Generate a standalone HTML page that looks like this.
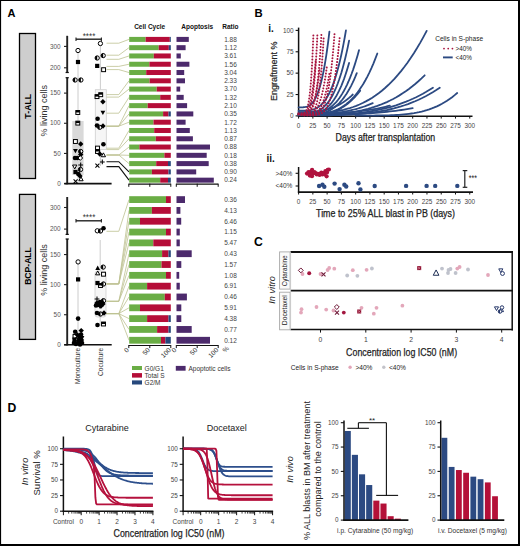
<!DOCTYPE html>
<html><head><meta charset="utf-8"><style>
html,body{margin:0;padding:0;background:#fff;}
svg{display:block;font-family:"Liberation Sans", sans-serif;}
</style></head><body>
<svg width="520" height="546" viewBox="0 0 520 546">
<rect x="0" y="0" width="520" height="546" fill="#fff"/>
<text x="7.5" y="17" font-size="11" text-anchor="start" font-weight="bold" fill="#000">A</text>
<rect x="19.50" y="33.50" width="16.00" height="145.00" fill="#cecece" stroke="#000" stroke-width="1.3"/>
<text x="31.3" y="106.2" font-size="8.8" text-anchor="middle" font-weight="bold" fill="#000" transform="rotate(-90 31.3 106.2)">T-ALL</text>
<rect x="19.50" y="194.40" width="16.00" height="145.00" fill="#cecece" stroke="#000" stroke-width="1.3"/>
<text x="31.3" y="266" font-size="8.6" text-anchor="middle" font-weight="bold" fill="#000" transform="rotate(-90 31.3 266)">BCP-ALL</text>
<text x="46.8" y="110.7" font-size="9" text-anchor="middle" font-weight="normal" fill="#333" transform="rotate(-90 46.8 110.7)">% living cells</text>
<text x="46.8" y="270" font-size="9" text-anchor="middle" font-weight="normal" fill="#333" transform="rotate(-90 46.8 270)">% living cells</text>
<line x1="67.20" y1="35.80" x2="67.20" y2="72.50" stroke="#222" stroke-width="1.9"/>
<line x1="67.20" y1="77.70" x2="67.20" y2="184.30" stroke="#222" stroke-width="1.9"/>
<line x1="65.60" y1="72.50" x2="68.80" y2="72.50" stroke="#111" stroke-width="1.2"/>
<line x1="65.60" y1="77.70" x2="68.80" y2="77.70" stroke="#111" stroke-width="1.2"/>
<line x1="64.00" y1="183.60" x2="67.20" y2="183.60" stroke="#222" stroke-width="1.1"/>
<text x="60.7" y="185.79999999999998" font-size="6.4" text-anchor="end" font-weight="normal" fill="#555">0</text>
<line x1="64.00" y1="153.44" x2="67.20" y2="153.44" stroke="#222" stroke-width="1.1"/>
<text x="60.7" y="155.635" font-size="6.4" text-anchor="end" font-weight="normal" fill="#555">50</text>
<line x1="64.00" y1="123.27" x2="67.20" y2="123.27" stroke="#222" stroke-width="1.1"/>
<text x="60.7" y="125.47" font-size="6.4" text-anchor="end" font-weight="normal" fill="#555">100</text>
<line x1="64.00" y1="93.11" x2="67.20" y2="93.11" stroke="#222" stroke-width="1.1"/>
<text x="60.7" y="95.305" font-size="6.4" text-anchor="end" font-weight="normal" fill="#555">150</text>
<line x1="64.00" y1="67.80" x2="67.20" y2="67.80" stroke="#222" stroke-width="1.1"/>
<text x="60.7" y="70.0" font-size="6.4" text-anchor="end" font-weight="normal" fill="#555">200</text>
<line x1="64.00" y1="46.40" x2="67.20" y2="46.40" stroke="#222" stroke-width="1.1"/>
<text x="60.7" y="48.6" font-size="6.4" text-anchor="end" font-weight="normal" fill="#555">300</text>
<line x1="64.40" y1="183.60" x2="111.60" y2="183.60" stroke="#111" stroke-width="1.6"/>
<line x1="67.20" y1="197.00" x2="67.20" y2="234.40" stroke="#222" stroke-width="1.9"/>
<line x1="67.20" y1="239.00" x2="67.20" y2="345.50" stroke="#222" stroke-width="1.9"/>
<line x1="65.60" y1="234.40" x2="68.80" y2="234.40" stroke="#111" stroke-width="1.2"/>
<line x1="65.60" y1="239.00" x2="68.80" y2="239.00" stroke="#111" stroke-width="1.2"/>
<line x1="64.00" y1="344.80" x2="67.20" y2="344.80" stroke="#222" stroke-width="1.1"/>
<text x="60.7" y="347.0" font-size="6.4" text-anchor="end" font-weight="normal" fill="#555">0</text>
<line x1="64.00" y1="314.73" x2="67.20" y2="314.73" stroke="#222" stroke-width="1.1"/>
<text x="60.7" y="316.925" font-size="6.4" text-anchor="end" font-weight="normal" fill="#555">50</text>
<line x1="64.00" y1="284.65" x2="67.20" y2="284.65" stroke="#222" stroke-width="1.1"/>
<text x="60.7" y="286.84999999999997" font-size="6.4" text-anchor="end" font-weight="normal" fill="#555">100</text>
<line x1="64.00" y1="254.57" x2="67.20" y2="254.57" stroke="#222" stroke-width="1.1"/>
<text x="60.7" y="256.775" font-size="6.4" text-anchor="end" font-weight="normal" fill="#555">150</text>
<line x1="64.00" y1="229.10" x2="67.20" y2="229.10" stroke="#222" stroke-width="1.1"/>
<text x="60.7" y="231.29999999999998" font-size="6.4" text-anchor="end" font-weight="normal" fill="#555">200</text>
<line x1="64.00" y1="207.50" x2="67.20" y2="207.50" stroke="#222" stroke-width="1.1"/>
<text x="60.7" y="209.7" font-size="6.4" text-anchor="end" font-weight="normal" fill="#555">300</text>
<line x1="64.20" y1="344.80" x2="111.70" y2="344.80" stroke="#111" stroke-width="1.6"/>
<line x1="76.00" y1="39.20" x2="101.40" y2="39.20" stroke="#222" stroke-width="1.4"/>
<line x1="76.00" y1="37.40" x2="76.00" y2="41.00" stroke="#222" stroke-width="1.1"/>
<line x1="101.40" y1="37.40" x2="101.40" y2="41.00" stroke="#222" stroke-width="1.1"/>
<text x="89" y="38.6" font-size="8.4" text-anchor="middle" font-weight="normal" fill="#333" textLength="12.6" lengthAdjust="spacingAndGlyphs">****</text>
<line x1="76.00" y1="220.80" x2="101.40" y2="220.80" stroke="#222" stroke-width="1.4"/>
<line x1="76.00" y1="219.00" x2="76.00" y2="222.60" stroke="#222" stroke-width="1.1"/>
<line x1="101.40" y1="219.00" x2="101.40" y2="222.60" stroke="#222" stroke-width="1.1"/>
<text x="89" y="220.20000000000002" font-size="8.4" text-anchor="middle" font-weight="normal" fill="#333" textLength="12.6" lengthAdjust="spacingAndGlyphs">****</text>
<line x1="78.00" y1="50.50" x2="78.00" y2="121.00" stroke="#c6c6c6" stroke-width="0.9"/>
<rect x="72.30" y="121.00" width="11.30" height="54.00" fill="#d9d9d9" stroke="none" stroke-width="0"/>
<line x1="78.00" y1="175.00" x2="78.00" y2="181.60" stroke="#c6c6c6" stroke-width="0.9"/>
<line x1="100.40" y1="43.50" x2="100.40" y2="89.70" stroke="#c6c6c6" stroke-width="0.9"/>
<rect x="95.30" y="89.70" width="11.00" height="59.80" fill="#f6f6f6" stroke="#cfcfcf" stroke-width="0.8"/>
<line x1="100.40" y1="149.50" x2="100.40" y2="166.00" stroke="#c6c6c6" stroke-width="0.9"/>
<line x1="78.00" y1="262.00" x2="78.00" y2="338.00" stroke="#c6c6c6" stroke-width="0.9"/>
<rect x="72.80" y="333.00" width="10.60" height="10.00" fill="#d9d9d9" stroke="none" stroke-width="0"/>
<line x1="100.20" y1="240.00" x2="100.20" y2="271.00" stroke="#c6c6c6" stroke-width="0.9"/>
<rect x="95.00" y="271.00" width="11.00" height="46.00" fill="#f6f6f6" stroke="#cfcfcf" stroke-width="0.8" rx="2.5"/>
<line x1="100.20" y1="317.00" x2="100.20" y2="326.00" stroke="#c6c6c6" stroke-width="0.9"/>
<path d="M106.50,43.20 L118.80,43.20 L129.00,39.40" fill="none" stroke="#bec292" stroke-width="0.8"/>
<path d="M106.50,55.20 L118.80,55.20 L129.00,47.68" fill="none" stroke="#bec292" stroke-width="0.8"/>
<path d="M106.50,59.30 L118.80,59.30 L129.00,55.96" fill="none" stroke="#bec292" stroke-width="0.8"/>
<path d="M106.50,66.40 L118.80,66.40 L129.00,64.24" fill="none" stroke="#bec292" stroke-width="0.8"/>
<path d="M106.50,69.60 L118.80,69.60 L129.00,72.52" fill="none" stroke="#bec292" stroke-width="0.8"/>
<path d="M106.50,94.60 L118.80,94.60 L129.00,80.80" fill="none" stroke="#bec292" stroke-width="0.8"/>
<path d="M106.50,97.10 L118.80,97.10 L129.00,89.08" fill="none" stroke="#bec292" stroke-width="0.8"/>
<path d="M106.50,113.20 L118.80,113.20 L129.00,97.36" fill="none" stroke="#bec292" stroke-width="0.8"/>
<path d="M106.50,126.20 L118.80,126.20 L129.00,105.64" fill="none" stroke="#bec292" stroke-width="0.8"/>
<path d="M106.50,126.20 L118.80,126.20 L129.00,113.92" fill="none" stroke="#bec292" stroke-width="0.8"/>
<path d="M106.50,126.20 L118.80,126.20 L129.00,122.20" fill="none" stroke="#bec292" stroke-width="0.8"/>
<path d="M106.50,148.20 L118.80,148.20 L129.00,130.48" fill="none" stroke="#bec292" stroke-width="0.8"/>
<path d="M106.50,149.60 L118.80,149.60 L129.00,138.76" fill="none" stroke="#bec292" stroke-width="0.8"/>
<path d="M106.50,155.00 L118.80,155.00 L129.00,147.04" fill="none" stroke="#bec292" stroke-width="0.8"/>
<path d="M106.50,155.00 L118.80,155.00 L129.00,155.32" fill="none" stroke="#bec292" stroke-width="0.8"/>
<path d="M106.50,155.00 L118.80,155.00 L129.00,163.60" fill="none" stroke="#bec292" stroke-width="0.8"/>
<path d="M106.50,161.70 L118.80,161.70 L129.00,171.88" fill="none" stroke="#111" stroke-width="1.1"/>
<path d="M106.50,166.60 L118.80,166.60 L129.00,180.16" fill="none" stroke="#111" stroke-width="1.1"/>
<path d="M106.50,231.30 L118.80,231.30 L129.00,199.60" fill="none" stroke="#bec292" stroke-width="0.8"/>
<path d="M106.50,283.90 L118.80,283.90 L129.00,210.42" fill="none" stroke="#bec292" stroke-width="0.8"/>
<path d="M106.50,283.90 L118.80,283.90 L129.00,221.24" fill="none" stroke="#bec292" stroke-width="0.8"/>
<path d="M106.50,283.90 L118.80,283.90 L129.00,232.06" fill="none" stroke="#bec292" stroke-width="0.8"/>
<path d="M106.50,283.90 L118.80,283.90 L129.00,242.88" fill="none" stroke="#bec292" stroke-width="0.8"/>
<path d="M106.50,301.30 L118.80,301.30 L129.00,253.70" fill="none" stroke="#bec292" stroke-width="0.8"/>
<path d="M106.50,301.30 L118.80,301.30 L129.00,264.52" fill="none" stroke="#bec292" stroke-width="0.8"/>
<path d="M106.50,301.30 L118.80,301.30 L129.00,275.34" fill="none" stroke="#bec292" stroke-width="0.8"/>
<path d="M106.50,313.60 L118.80,313.60 L129.00,286.16" fill="none" stroke="#bec292" stroke-width="0.8"/>
<path d="M106.50,313.60 L118.80,313.60 L129.00,296.98" fill="none" stroke="#bec292" stroke-width="0.8"/>
<path d="M106.50,313.60 L118.80,313.60 L129.00,307.80" fill="none" stroke="#bec292" stroke-width="0.8"/>
<path d="M106.50,313.60 L118.80,313.60 L129.00,318.62" fill="none" stroke="#bec292" stroke-width="0.8"/>
<path d="M106.50,313.60 L118.80,313.60 L129.00,329.44" fill="none" stroke="#bec292" stroke-width="0.8"/>
<path d="M106.50,313.60 L118.80,313.60 L129.00,340.26" fill="none" stroke="#bec292" stroke-width="0.8"/>
<circle cx="78" cy="50.5" r="2.15" fill="#fff" stroke="#000" stroke-width="1.0"/>
<rect x="75.90" y="59.90" width="4.20" height="4.20" fill="#000" stroke="none" stroke-width="0"/>
<circle cx="75.1" cy="80" r="2.15" fill="#fff" stroke="#000" stroke-width="1.0"/>
<path d="M75.10,77.85 A2.15,2.15 0 0 0 75.10,82.15 Z" fill="#000"/>
<circle cx="80.9" cy="80" r="2.15" fill="#fff" stroke="#000" stroke-width="1.0"/>
<path d="M80.90,77.85 A2.15,2.15 0 0 0 80.90,82.15 Z" fill="#000"/>
<rect x="75.85" y="110.55" width="3.90" height="3.90" fill="#fff" stroke="#000" stroke-width="1.0"/>
<rect x="75.85" y="110.55" width="3.90" height="1.95" fill="#000" stroke="none" stroke-width="0"/>
<rect x="75.85" y="121.15" width="3.90" height="3.90" fill="#fff" stroke="#000" stroke-width="1.0"/>
<rect x="75.85" y="121.15" width="3.90" height="1.95" fill="#000" stroke="none" stroke-width="0"/>
<rect x="73.45" y="139.55" width="3.90" height="3.90" fill="#fff" stroke="#000" stroke-width="1.0"/>
<path d="M80.7,141.30 L83.40,144 L80.7,146.70 L78.00,144 Z" fill="#000"/>
<path d="M73.00,148.90 L77.80,148.90 L75.4,153.30 Z" fill="#000"/>
<circle cx="80.7" cy="151.5" r="2.15" fill="#fff" stroke="#000" stroke-width="1.0"/>
<path d="M80.70,149.35 A2.15,2.15 0 0 0 80.70,153.65 Z" fill="#000"/>
<path d="M80.7,151.80 L83.40,154.5 L80.7,157.20 L78.00,154.5 Z" fill="#000"/>
<circle cx="75" cy="158" r="2.30" fill="#000"/>
<circle cx="77.3" cy="158" r="2.30" fill="#000"/>
<path d="M80.3,155.65 L82.65,158 L80.3,160.35 L77.95,158 Z" fill="#fff" stroke="#000" stroke-width="1.0"/>
<path d="M78.30,165 L83.10,165 M80.7,162.60 L80.7,167.40" stroke="#000" stroke-width="1.05"/>
<path d="M72.55,165.05 L76.85,165.05 L74.7,168.95 Z" fill="#fff" stroke="#000" stroke-width="1.0" stroke-linejoin="round"/>
<circle cx="80.5" cy="169.5" r="2.15" fill="#fff" stroke="#000" stroke-width="1.0"/>
<path d="M80.50,167.35 A2.15,2.15 0 0 0 80.50,171.65 Z" fill="#000"/>
<rect x="73.40" y="169.90" width="4.20" height="4.20" fill="#000" stroke="none" stroke-width="0"/>
<circle cx="78.3" cy="174" r="2.30" fill="#000"/>
<path d="M80,173.30 L82.70,176 L80,178.70 L77.30,176 Z" fill="#000"/>
<path d="M78.85,180.75 L83.15,180.75 L81,176.85 Z" fill="#fff" stroke="#000" stroke-width="1.0" stroke-linejoin="round"/>
<path d="M73.60,179.40 L77.60,183.40 M73.60,183.40 L77.60,179.40" stroke="#000" stroke-width="1.05"/>
<circle cx="100.4" cy="43.5" r="2.15" fill="#fff" stroke="#000" stroke-width="1.0"/>
<circle cx="97.2" cy="58" r="2.15" fill="#fff" stroke="#000" stroke-width="1.0"/>
<path d="M97.20,55.85 A2.15,2.15 0 0 0 97.20,60.15 Z" fill="#000"/>
<circle cx="103.2" cy="55.6" r="2.15" fill="#fff" stroke="#000" stroke-width="1.0"/>
<path d="M103.20,53.45 A2.15,2.15 0 0 0 103.20,57.75 Z" fill="#000"/>
<rect x="95.10" y="63.80" width="4.20" height="4.20" fill="#000" stroke="none" stroke-width="0"/>
<rect x="101.65" y="67.75" width="3.90" height="3.90" fill="#fff" stroke="#000" stroke-width="1.0"/>
<rect x="95.05" y="94.65" width="3.90" height="3.90" fill="#fff" stroke="#000" stroke-width="1.0"/>
<rect x="95.05" y="94.65" width="3.90" height="1.95" fill="#000" stroke="none" stroke-width="0"/>
<rect x="98.75" y="92.75" width="3.90" height="3.90" fill="#fff" stroke="#000" stroke-width="1.0"/>
<rect x="98.75" y="92.75" width="3.90" height="1.95" fill="#000" stroke="none" stroke-width="0"/>
<path d="M102.9,99.00 L105.60,101.7 L102.9,104.40 L100.20,101.7 Z" fill="#000"/>
<path d="M100.50,110.70 L105.30,110.70 L102.9,115.10 Z" fill="#000"/>
<circle cx="97.6" cy="118.7" r="2.30" fill="#000"/>
<circle cx="97" cy="125.5" r="2.30" fill="#000"/>
<circle cx="99.7" cy="127.3" r="2.15" fill="#fff" stroke="#000" stroke-width="1.0"/>
<path d="M99.70,125.15 A2.15,2.15 0 0 0 99.70,129.45 Z" fill="#000"/>
<path d="M103,123.30 L105.70,126 L103,128.70 L100.30,126 Z" fill="#000"/>
<circle cx="103.4" cy="144.3" r="2.30" fill="#000"/>
<rect x="95.55" y="146.15" width="3.90" height="3.90" fill="#fff" stroke="#000" stroke-width="1.0"/>
<rect x="95.55" y="149.55" width="3.90" height="3.90" fill="#fff" stroke="#000" stroke-width="1.0"/>
<rect x="95.55" y="149.55" width="3.90" height="1.95" fill="#000" stroke="none" stroke-width="0"/>
<path d="M99.8,151.30 L102.50,154 L99.8,156.70 L97.10,154 Z" fill="#000"/>
<path d="M101.25,156.75 L105.55,156.75 L103.4,152.85 Z" fill="#fff" stroke="#000" stroke-width="1.0" stroke-linejoin="round"/>
<path d="M99.90,161.9 L104.70,161.9 M102.3,159.50 L102.3,164.30" stroke="#000" stroke-width="1.05"/>
<path d="M95.40,163.70 L99.40,167.70 M95.40,167.70 L99.40,163.70" stroke="#000" stroke-width="1.05"/>
<circle cx="78.1" cy="261.9" r="2.15" fill="#fff" stroke="#000" stroke-width="1.0"/>
<rect x="76.00" y="277.30" width="4.20" height="4.20" fill="#000" stroke="none" stroke-width="0"/>
<circle cx="78.1" cy="318.6" r="2.30" fill="#000"/>
<circle cx="75.2" cy="331.8" r="2.30" fill="#000"/>
<path d="M81.2,327.90 L83.90,330.6 L81.2,333.30 L78.50,330.6 Z" fill="#000"/>
<rect x="73.05" y="334.55" width="3.90" height="3.90" fill="#fff" stroke="#000" stroke-width="1.0"/>
<circle cx="80" cy="337" r="2.30" fill="#000"/>
<circle cx="76" cy="340" r="2.15" fill="#fff" stroke="#000" stroke-width="1.0"/>
<path d="M76.00,337.85 A2.15,2.15 0 0 0 76.00,342.15 Z" fill="#000"/>
<path d="M81.5,337.30 L84.20,340 L81.5,342.70 L78.80,340 Z" fill="#000"/>
<circle cx="74" cy="343" r="2.30" fill="#000"/>
<circle cx="78" cy="343" r="2.30" fill="#000"/>
<circle cx="82" cy="343" r="2.30" fill="#000"/>
<path d="M76.00,337.00 L80.00,341.00 M76.00,341.00 L80.00,337.00" stroke="#000" stroke-width="1.05"/>
<path d="M77.5,332.30 L80.20,335 L77.5,337.70 L74.80,335 Z" fill="#000"/>
<circle cx="81" cy="334.5" r="2.30" fill="#000"/>
<rect x="72.40" y="337.40" width="4.20" height="4.20" fill="#000" stroke="none" stroke-width="0"/>
<circle cx="79" cy="341" r="2.30" fill="#000"/>
<path d="M79.60,336.00 L84.40,336.00 L82,340.40 Z" fill="#000"/>
<circle cx="76" cy="344" r="2.30" fill="#000"/>
<circle cx="80" cy="344.5" r="2.30" fill="#000"/>
<circle cx="97.3" cy="230.8" r="2.15" fill="#fff" stroke="#000" stroke-width="1.0"/>
<circle cx="100.5" cy="231" r="2.15" fill="#fff" stroke="#000" stroke-width="1.0"/>
<path d="M100.50,228.85 A2.15,2.15 0 0 0 100.50,233.15 Z" fill="#000"/>
<circle cx="103.5" cy="228.2" r="2.30" fill="#000"/>
<path d="M95.30,269.90 L100.10,269.90 L97.7,265.50 Z" fill="#000"/>
<circle cx="103.2" cy="267.1" r="2.15" fill="#fff" stroke="#000" stroke-width="1.0"/>
<path d="M103.20,264.95 A2.15,2.15 0 0 0 103.20,269.25 Z" fill="#000"/>
<path d="M95.55,274.85 L99.85,274.85 L97.7,270.95 Z" fill="#fff" stroke="#000" stroke-width="1.0" stroke-linejoin="round"/>
<rect x="101.55" y="272.25" width="3.90" height="3.90" fill="#fff" stroke="#000" stroke-width="1.0"/>
<rect x="95.40" y="280.90" width="4.20" height="4.20" fill="#000" stroke="none" stroke-width="0"/>
<rect x="98.55" y="283.55" width="3.90" height="3.90" fill="#fff" stroke="#000" stroke-width="1.0"/>
<rect x="98.55" y="283.55" width="3.90" height="1.95" fill="#000" stroke="none" stroke-width="0"/>
<circle cx="103.5" cy="284" r="2.15" fill="#fff" stroke="#000" stroke-width="1.0"/>
<path d="M103.50,281.85 A2.15,2.15 0 0 0 103.50,286.15 Z" fill="#000"/>
<path d="M94.60,299 L99.40,299 M97,296.60 L97,301.40" stroke="#000" stroke-width="1.05"/>
<circle cx="103.5" cy="300.7" r="2.15" fill="#fff" stroke="#000" stroke-width="1.0"/>
<path d="M103.50,298.55 A2.15,2.15 0 0 0 103.50,302.85 Z" fill="#000"/>
<path d="M97,300.30 L99.70,303 L97,305.70 L94.30,303 Z" fill="#000"/>
<circle cx="100" cy="302" r="2.30" fill="#000"/>
<path d="M103,301.30 L105.70,304 L103,306.70 L100.30,304 Z" fill="#000"/>
<path d="M97.60,304.50 L102.40,304.50 L100,308.90 Z" fill="#000"/>
<circle cx="98" cy="305" r="2.30" fill="#000"/>
<path d="M99,301.30 L101.70,304 L99,306.70 L96.30,304 Z" fill="#000"/>
<circle cx="102" cy="303" r="2.30" fill="#000"/>
<path d="M101,303.30 L103.70,306 L101,308.70 L98.30,306 Z" fill="#000"/>
<circle cx="96" cy="305.5" r="2.30" fill="#000"/>
<circle cx="97" cy="313" r="2.30" fill="#000"/>
<circle cx="100.5" cy="314" r="2.15" fill="#fff" stroke="#000" stroke-width="1.0"/>
<path d="M100.50,311.85 A2.15,2.15 0 0 0 100.50,316.15 Z" fill="#000"/>
<path d="M104,310.30 L106.70,313 L104,315.70 L101.30,313 Z" fill="#000"/>
<circle cx="97.5" cy="325" r="2.30" fill="#000"/>
<rect x="101.55" y="322.05" width="3.90" height="3.90" fill="#fff" stroke="#000" stroke-width="1.0"/>
<rect x="101.55" y="322.05" width="3.90" height="1.95" fill="#000" stroke="none" stroke-width="0"/>
<rect x="129.20" y="36.90" width="16.40" height="5.00" fill="#6aad45" stroke="none" stroke-width="0"/>
<rect x="145.60" y="36.90" width="24.20" height="5.00" fill="#b50d38" stroke="none" stroke-width="0"/>
<rect x="169.80" y="36.90" width="1.00" height="5.00" fill="#26487c" stroke="none" stroke-width="0"/>
<rect x="176.50" y="36.90" width="12.30" height="5.00" fill="#4c2a6c" stroke="none" stroke-width="0"/>
<text x="236.8" y="41.699999999999996" font-size="6.5" text-anchor="end" font-weight="normal" fill="#444">1.88</text>
<rect x="129.20" y="45.18" width="29.50" height="5.00" fill="#6aad45" stroke="none" stroke-width="0"/>
<rect x="158.70" y="45.18" width="10.10" height="5.00" fill="#b50d38" stroke="none" stroke-width="0"/>
<rect x="168.80" y="45.18" width="2.00" height="5.00" fill="#26487c" stroke="none" stroke-width="0"/>
<rect x="176.50" y="45.18" width="9.10" height="5.00" fill="#4c2a6c" stroke="none" stroke-width="0"/>
<text x="236.8" y="49.98" font-size="6.5" text-anchor="end" font-weight="normal" fill="#444">1.12</text>
<rect x="129.20" y="53.46" width="24.60" height="5.00" fill="#6aad45" stroke="none" stroke-width="0"/>
<rect x="153.80" y="53.46" width="17.00" height="5.00" fill="#b50d38" stroke="none" stroke-width="0"/>
<rect x="176.50" y="53.46" width="4.30" height="5.00" fill="#4c2a6c" stroke="none" stroke-width="0"/>
<text x="236.8" y="58.25999999999999" font-size="6.5" text-anchor="end" font-weight="normal" fill="#444">3.61</text>
<rect x="129.20" y="61.74" width="20.20" height="5.00" fill="#6aad45" stroke="none" stroke-width="0"/>
<rect x="149.40" y="61.74" width="21.40" height="5.00" fill="#b50d38" stroke="none" stroke-width="0"/>
<rect x="176.50" y="61.74" width="12.90" height="5.00" fill="#4c2a6c" stroke="none" stroke-width="0"/>
<text x="236.8" y="66.53999999999999" font-size="6.5" text-anchor="end" font-weight="normal" fill="#444">1.56</text>
<rect x="129.20" y="70.02" width="17.00" height="5.00" fill="#6aad45" stroke="none" stroke-width="0"/>
<rect x="146.20" y="70.02" width="24.60" height="5.00" fill="#b50d38" stroke="none" stroke-width="0"/>
<rect x="176.50" y="70.02" width="7.70" height="5.00" fill="#4c2a6c" stroke="none" stroke-width="0"/>
<text x="236.8" y="74.82" font-size="6.5" text-anchor="end" font-weight="normal" fill="#444">3.04</text>
<rect x="129.20" y="78.30" width="20.40" height="5.00" fill="#6aad45" stroke="none" stroke-width="0"/>
<rect x="149.60" y="78.30" width="21.20" height="5.00" fill="#b50d38" stroke="none" stroke-width="0"/>
<rect x="176.50" y="78.30" width="8.50" height="5.00" fill="#4c2a6c" stroke="none" stroke-width="0"/>
<text x="236.8" y="83.1" font-size="6.5" text-anchor="end" font-weight="normal" fill="#444">2.33</text>
<rect x="129.20" y="86.58" width="27.50" height="5.00" fill="#6aad45" stroke="none" stroke-width="0"/>
<rect x="156.70" y="86.58" width="14.10" height="5.00" fill="#b50d38" stroke="none" stroke-width="0"/>
<rect x="176.50" y="86.58" width="3.70" height="5.00" fill="#4c2a6c" stroke="none" stroke-width="0"/>
<text x="236.8" y="91.37999999999998" font-size="6.5" text-anchor="end" font-weight="normal" fill="#444">3.70</text>
<rect x="129.20" y="94.86" width="31.00" height="5.00" fill="#6aad45" stroke="none" stroke-width="0"/>
<rect x="160.20" y="94.86" width="10.60" height="5.00" fill="#b50d38" stroke="none" stroke-width="0"/>
<rect x="176.50" y="94.86" width="7.20" height="5.00" fill="#4c2a6c" stroke="none" stroke-width="0"/>
<text x="236.8" y="99.65999999999998" font-size="6.5" text-anchor="end" font-weight="normal" fill="#444">1.32</text>
<rect x="129.20" y="103.14" width="18.50" height="5.00" fill="#6aad45" stroke="none" stroke-width="0"/>
<rect x="147.70" y="103.14" width="23.10" height="5.00" fill="#b50d38" stroke="none" stroke-width="0"/>
<rect x="176.50" y="103.14" width="10.60" height="5.00" fill="#4c2a6c" stroke="none" stroke-width="0"/>
<text x="236.8" y="107.93999999999998" font-size="6.5" text-anchor="end" font-weight="normal" fill="#444">2.10</text>
<rect x="129.20" y="111.42" width="33.90" height="5.00" fill="#6aad45" stroke="none" stroke-width="0"/>
<rect x="163.10" y="111.42" width="5.40" height="5.00" fill="#b50d38" stroke="none" stroke-width="0"/>
<rect x="168.50" y="111.42" width="2.30" height="5.00" fill="#26487c" stroke="none" stroke-width="0"/>
<rect x="176.50" y="111.42" width="16.80" height="5.00" fill="#4c2a6c" stroke="none" stroke-width="0"/>
<text x="236.8" y="116.21999999999998" font-size="6.5" text-anchor="end" font-weight="normal" fill="#444">0.35</text>
<rect x="129.20" y="119.70" width="24.30" height="5.00" fill="#6aad45" stroke="none" stroke-width="0"/>
<rect x="153.50" y="119.70" width="17.30" height="5.00" fill="#b50d38" stroke="none" stroke-width="0"/>
<rect x="176.50" y="119.70" width="9.10" height="5.00" fill="#4c2a6c" stroke="none" stroke-width="0"/>
<text x="236.8" y="124.49999999999999" font-size="6.5" text-anchor="end" font-weight="normal" fill="#444">1.72</text>
<rect x="129.20" y="127.98" width="25.00" height="5.00" fill="#6aad45" stroke="none" stroke-width="0"/>
<rect x="154.20" y="127.98" width="16.60" height="5.00" fill="#b50d38" stroke="none" stroke-width="0"/>
<rect x="176.50" y="127.98" width="13.30" height="5.00" fill="#4c2a6c" stroke="none" stroke-width="0"/>
<text x="236.8" y="132.78" font-size="6.5" text-anchor="end" font-weight="normal" fill="#444">1.13</text>
<rect x="129.20" y="136.26" width="26.60" height="5.00" fill="#6aad45" stroke="none" stroke-width="0"/>
<rect x="155.80" y="136.26" width="15.00" height="5.00" fill="#b50d38" stroke="none" stroke-width="0"/>
<rect x="176.50" y="136.26" width="16.40" height="5.00" fill="#4c2a6c" stroke="none" stroke-width="0"/>
<text x="236.8" y="141.06" font-size="6.5" text-anchor="end" font-weight="normal" fill="#444">0.87</text>
<rect x="129.20" y="144.54" width="10.20" height="5.00" fill="#6aad45" stroke="none" stroke-width="0"/>
<rect x="139.40" y="144.54" width="31.40" height="5.00" fill="#b50d38" stroke="none" stroke-width="0"/>
<rect x="176.50" y="144.54" width="33.50" height="5.00" fill="#4c2a6c" stroke="none" stroke-width="0"/>
<text x="236.8" y="149.34" font-size="6.5" text-anchor="end" font-weight="normal" fill="#444">0.88</text>
<rect x="129.20" y="152.82" width="35.20" height="5.00" fill="#6aad45" stroke="none" stroke-width="0"/>
<rect x="164.40" y="152.82" width="6.40" height="5.00" fill="#b50d38" stroke="none" stroke-width="0"/>
<rect x="176.50" y="152.82" width="30.20" height="5.00" fill="#4c2a6c" stroke="none" stroke-width="0"/>
<text x="236.8" y="157.62" font-size="6.5" text-anchor="end" font-weight="normal" fill="#444">0.18</text>
<rect x="129.20" y="161.10" width="27.00" height="5.00" fill="#6aad45" stroke="none" stroke-width="0"/>
<rect x="156.20" y="161.10" width="11.80" height="5.00" fill="#b50d38" stroke="none" stroke-width="0"/>
<rect x="168.00" y="161.10" width="2.80" height="5.00" fill="#26487c" stroke="none" stroke-width="0"/>
<rect x="176.50" y="161.10" width="32.20" height="5.00" fill="#4c2a6c" stroke="none" stroke-width="0"/>
<text x="236.8" y="165.9" font-size="6.5" text-anchor="end" font-weight="normal" fill="#444">0.38</text>
<rect x="129.20" y="169.38" width="22.70" height="5.00" fill="#6aad45" stroke="none" stroke-width="0"/>
<rect x="151.90" y="169.38" width="16.60" height="5.00" fill="#b50d38" stroke="none" stroke-width="0"/>
<rect x="168.50" y="169.38" width="2.30" height="5.00" fill="#26487c" stroke="none" stroke-width="0"/>
<rect x="176.50" y="169.38" width="19.70" height="5.00" fill="#4c2a6c" stroke="none" stroke-width="0"/>
<text x="236.8" y="174.18" font-size="6.5" text-anchor="end" font-weight="normal" fill="#444">0.90</text>
<rect x="129.20" y="177.66" width="31.00" height="5.00" fill="#6aad45" stroke="none" stroke-width="0"/>
<rect x="160.20" y="177.66" width="7.80" height="5.00" fill="#b50d38" stroke="none" stroke-width="0"/>
<rect x="168.00" y="177.66" width="2.80" height="5.00" fill="#26487c" stroke="none" stroke-width="0"/>
<rect x="176.50" y="177.66" width="37.30" height="5.00" fill="#4c2a6c" stroke="none" stroke-width="0"/>
<text x="236.8" y="182.46" font-size="6.5" text-anchor="end" font-weight="normal" fill="#444">0.24</text>
<rect x="129.20" y="196.20" width="36.80" height="6.80" fill="#6aad45" stroke="none" stroke-width="0"/>
<rect x="166.00" y="196.20" width="4.80" height="6.80" fill="#b50d38" stroke="none" stroke-width="0"/>
<rect x="176.50" y="196.20" width="8.50" height="6.80" fill="#4c2a6c" stroke="none" stroke-width="0"/>
<text x="236.8" y="201.9" font-size="6.5" text-anchor="end" font-weight="normal" fill="#444">0.36</text>
<rect x="129.20" y="207.02" width="22.70" height="6.80" fill="#6aad45" stroke="none" stroke-width="0"/>
<rect x="151.90" y="207.02" width="18.90" height="6.80" fill="#b50d38" stroke="none" stroke-width="0"/>
<rect x="176.50" y="207.02" width="3.90" height="6.80" fill="#4c2a6c" stroke="none" stroke-width="0"/>
<text x="236.8" y="212.72" font-size="6.5" text-anchor="end" font-weight="normal" fill="#444">4.13</text>
<rect x="129.20" y="217.84" width="10.80" height="6.80" fill="#6aad45" stroke="none" stroke-width="0"/>
<rect x="140.00" y="217.84" width="30.80" height="6.80" fill="#b50d38" stroke="none" stroke-width="0"/>
<rect x="176.50" y="217.84" width="4.70" height="6.80" fill="#4c2a6c" stroke="none" stroke-width="0"/>
<text x="236.8" y="223.54000000000002" font-size="6.5" text-anchor="end" font-weight="normal" fill="#444">6.46</text>
<rect x="129.20" y="228.66" width="36.80" height="6.80" fill="#6aad45" stroke="none" stroke-width="0"/>
<rect x="166.00" y="228.66" width="4.80" height="6.80" fill="#b50d38" stroke="none" stroke-width="0"/>
<rect x="176.50" y="228.66" width="3.30" height="6.80" fill="#4c2a6c" stroke="none" stroke-width="0"/>
<text x="236.8" y="234.36" font-size="6.5" text-anchor="end" font-weight="normal" fill="#444">1.15</text>
<rect x="129.20" y="239.48" width="24.10" height="6.80" fill="#6aad45" stroke="none" stroke-width="0"/>
<rect x="153.30" y="239.48" width="17.50" height="6.80" fill="#b50d38" stroke="none" stroke-width="0"/>
<rect x="176.50" y="239.48" width="3.30" height="6.80" fill="#4c2a6c" stroke="none" stroke-width="0"/>
<text x="236.8" y="245.18" font-size="6.5" text-anchor="end" font-weight="normal" fill="#444">5.47</text>
<rect x="129.20" y="250.30" width="32.90" height="6.80" fill="#6aad45" stroke="none" stroke-width="0"/>
<rect x="162.10" y="250.30" width="6.40" height="6.80" fill="#b50d38" stroke="none" stroke-width="0"/>
<rect x="168.50" y="250.30" width="2.30" height="6.80" fill="#26487c" stroke="none" stroke-width="0"/>
<rect x="176.50" y="250.30" width="15.20" height="6.80" fill="#4c2a6c" stroke="none" stroke-width="0"/>
<text x="236.8" y="256.0" font-size="6.5" text-anchor="end" font-weight="normal" fill="#444">0.43</text>
<rect x="129.20" y="261.12" width="32.30" height="6.80" fill="#6aad45" stroke="none" stroke-width="0"/>
<rect x="161.50" y="261.12" width="9.30" height="6.80" fill="#b50d38" stroke="none" stroke-width="0"/>
<rect x="176.50" y="261.12" width="4.80" height="6.80" fill="#4c2a6c" stroke="none" stroke-width="0"/>
<text x="236.8" y="266.82" font-size="6.5" text-anchor="end" font-weight="normal" fill="#444">1.57</text>
<rect x="129.20" y="271.94" width="36.80" height="6.80" fill="#6aad45" stroke="none" stroke-width="0"/>
<rect x="166.00" y="271.94" width="4.80" height="6.80" fill="#b50d38" stroke="none" stroke-width="0"/>
<rect x="176.50" y="271.94" width="2.70" height="6.80" fill="#4c2a6c" stroke="none" stroke-width="0"/>
<text x="236.8" y="277.64000000000004" font-size="6.5" text-anchor="end" font-weight="normal" fill="#444">1.08</text>
<rect x="129.20" y="282.76" width="17.90" height="6.80" fill="#6aad45" stroke="none" stroke-width="0"/>
<rect x="147.10" y="282.76" width="23.70" height="6.80" fill="#b50d38" stroke="none" stroke-width="0"/>
<rect x="176.50" y="282.76" width="3.30" height="6.80" fill="#4c2a6c" stroke="none" stroke-width="0"/>
<text x="236.8" y="288.46" font-size="6.5" text-anchor="end" font-weight="normal" fill="#444">6.91</text>
<rect x="129.20" y="293.58" width="35.60" height="6.80" fill="#6aad45" stroke="none" stroke-width="0"/>
<rect x="164.80" y="293.58" width="6.00" height="6.80" fill="#b50d38" stroke="none" stroke-width="0"/>
<rect x="176.50" y="293.58" width="10.40" height="6.80" fill="#4c2a6c" stroke="none" stroke-width="0"/>
<text x="236.8" y="299.28000000000003" font-size="6.5" text-anchor="end" font-weight="normal" fill="#444">0.46</text>
<rect x="129.20" y="304.40" width="10.80" height="6.80" fill="#6aad45" stroke="none" stroke-width="0"/>
<rect x="140.00" y="304.40" width="30.80" height="6.80" fill="#b50d38" stroke="none" stroke-width="0"/>
<rect x="176.50" y="304.40" width="4.80" height="6.80" fill="#4c2a6c" stroke="none" stroke-width="0"/>
<text x="236.8" y="310.1" font-size="6.5" text-anchor="end" font-weight="normal" fill="#444">5.91</text>
<rect x="129.20" y="315.22" width="17.90" height="6.80" fill="#6aad45" stroke="none" stroke-width="0"/>
<rect x="147.10" y="315.22" width="21.40" height="6.80" fill="#b50d38" stroke="none" stroke-width="0"/>
<rect x="168.50" y="315.22" width="2.30" height="6.80" fill="#26487c" stroke="none" stroke-width="0"/>
<rect x="176.50" y="315.22" width="4.80" height="6.80" fill="#4c2a6c" stroke="none" stroke-width="0"/>
<text x="236.8" y="320.92" font-size="6.5" text-anchor="end" font-weight="normal" fill="#444">4.38</text>
<rect x="129.20" y="326.04" width="27.90" height="6.80" fill="#6aad45" stroke="none" stroke-width="0"/>
<rect x="157.10" y="326.04" width="11.40" height="6.80" fill="#b50d38" stroke="none" stroke-width="0"/>
<rect x="168.50" y="326.04" width="2.30" height="6.80" fill="#26487c" stroke="none" stroke-width="0"/>
<rect x="176.50" y="326.04" width="15.20" height="6.80" fill="#4c2a6c" stroke="none" stroke-width="0"/>
<text x="236.8" y="331.74" font-size="6.5" text-anchor="end" font-weight="normal" fill="#444">0.77</text>
<rect x="129.20" y="336.86" width="31.80" height="6.80" fill="#6aad45" stroke="none" stroke-width="0"/>
<rect x="161.00" y="336.86" width="4.40" height="6.80" fill="#b50d38" stroke="none" stroke-width="0"/>
<rect x="165.40" y="336.86" width="5.40" height="6.80" fill="#26487c" stroke="none" stroke-width="0"/>
<rect x="176.50" y="336.86" width="33.50" height="6.80" fill="#4c2a6c" stroke="none" stroke-width="0"/>
<text x="236.8" y="342.56" font-size="6.5" text-anchor="end" font-weight="normal" fill="#444">0.12</text>
<text x="149.7" y="29.2" font-size="6.5" text-anchor="middle" font-weight="bold" fill="#111">Cell Cycle</text>
<text x="197.2" y="29.2" font-size="6.5" text-anchor="middle" font-weight="bold" fill="#111">Apoptosis</text>
<text x="230.4" y="29.2" font-size="6.5" text-anchor="middle" font-weight="bold" fill="#111">Ratio</text>
<line x1="128.80" y1="184.20" x2="170.80" y2="184.20" stroke="#111" stroke-width="1.2"/>
<line x1="176.30" y1="184.20" x2="218.20" y2="184.20" stroke="#111" stroke-width="1.2"/>
<line x1="128.80" y1="183.70" x2="128.80" y2="186.80" stroke="#111" stroke-width="1"/>
<line x1="149.80" y1="183.70" x2="149.80" y2="186.80" stroke="#111" stroke-width="1"/>
<line x1="170.80" y1="183.70" x2="170.80" y2="186.80" stroke="#111" stroke-width="1"/>
<line x1="176.30" y1="183.70" x2="176.30" y2="186.80" stroke="#111" stroke-width="1"/>
<line x1="197.20" y1="183.70" x2="197.20" y2="186.80" stroke="#111" stroke-width="1"/>
<line x1="218.20" y1="183.70" x2="218.20" y2="186.80" stroke="#111" stroke-width="1"/>
<line x1="128.80" y1="345.50" x2="170.80" y2="345.50" stroke="#111" stroke-width="1.2"/>
<line x1="176.30" y1="345.50" x2="218.20" y2="345.50" stroke="#111" stroke-width="1.2"/>
<line x1="128.80" y1="345.00" x2="128.80" y2="348.10" stroke="#111" stroke-width="1"/>
<line x1="149.80" y1="345.00" x2="149.80" y2="348.10" stroke="#111" stroke-width="1"/>
<line x1="170.80" y1="345.00" x2="170.80" y2="348.10" stroke="#111" stroke-width="1"/>
<line x1="176.30" y1="345.00" x2="176.30" y2="348.10" stroke="#111" stroke-width="1"/>
<line x1="197.20" y1="345.00" x2="197.20" y2="348.10" stroke="#111" stroke-width="1"/>
<line x1="218.20" y1="345.00" x2="218.20" y2="348.10" stroke="#111" stroke-width="1"/>
<text x="129.4" y="350.5" font-size="6.6" text-anchor="end" font-weight="normal" fill="#333" transform="rotate(-45 129.4 350.5)">0</text>
<text x="150.4" y="350.5" font-size="6.6" text-anchor="end" font-weight="normal" fill="#333" transform="rotate(-45 150.4 350.5)">50</text>
<text x="171.4" y="350.5" font-size="6.6" text-anchor="end" font-weight="normal" fill="#333" transform="rotate(-45 171.4 350.5)">100</text>
<text x="176.9" y="350.5" font-size="6.6" text-anchor="end" font-weight="normal" fill="#333" transform="rotate(-45 176.9 350.5)">0</text>
<text x="197.79999999999998" y="350.5" font-size="6.6" text-anchor="end" font-weight="normal" fill="#333" transform="rotate(-45 197.79999999999998 350.5)">50</text>
<text x="218.79999999999998" y="350.5" font-size="6.6" text-anchor="end" font-weight="normal" fill="#333" transform="rotate(-45 218.79999999999998 350.5)">100</text>
<text x="227.3" y="351" font-size="6.6" text-anchor="middle" font-weight="normal" fill="#333" transform="rotate(-45 227.3 351)">%</text>
<rect x="132.00" y="366.00" width="10.00" height="4.00" fill="#6aad45" stroke="none" stroke-width="0"/>
<rect x="132.00" y="373.10" width="10.00" height="4.50" fill="#b50d38" stroke="none" stroke-width="0"/>
<rect x="132.00" y="380.40" width="10.00" height="4.10" fill="#26487c" stroke="none" stroke-width="0"/>
<text x="144.6" y="370.8" font-size="6.5" text-anchor="start" font-weight="normal" fill="#333">G0/G1</text>
<text x="144.6" y="377.8" font-size="6.5" text-anchor="start" font-weight="normal" fill="#333">Total S</text>
<text x="144.6" y="384.8" font-size="6.5" text-anchor="start" font-weight="normal" fill="#333">G2/M</text>
<rect x="175.80" y="365.90" width="9.80" height="4.80" fill="#4c2a6c" stroke="none" stroke-width="0"/>
<text x="188.5" y="370.8" font-size="6.5" text-anchor="start" font-weight="normal" fill="#333">Apoptotic cells</text>
<text x="80.3" y="347.8" font-size="6.6" text-anchor="end" font-weight="normal" fill="#333" transform="rotate(-90 80.3 347.8)">Monoculture</text>
<text x="102.7" y="347.8" font-size="6.6" text-anchor="end" font-weight="normal" fill="#333" transform="rotate(-90 102.7 347.8)">Coculture</text>
<text x="254.6" y="17.1" font-size="11.3" text-anchor="start" font-weight="bold" fill="#000">B</text>
<text x="268.3" y="32.2" font-size="10" text-anchor="start" font-weight="bold" fill="#111">i.</text>
<text x="266.4" y="162.2" font-size="10" text-anchor="start" font-weight="bold" fill="#111">ii.</text>
<line x1="298.60" y1="27.60" x2="298.60" y2="116.80" stroke="#111" stroke-width="1.5"/>
<line x1="297.90" y1="116.20" x2="472.50" y2="116.20" stroke="#111" stroke-width="1.6"/>
<line x1="295.60" y1="115.90" x2="298.60" y2="115.90" stroke="#111" stroke-width="1.1"/>
<text x="293.6" y="118.10000000000001" font-size="6.4" text-anchor="end" font-weight="normal" fill="#444">0</text>
<line x1="295.60" y1="94.53" x2="298.60" y2="94.53" stroke="#111" stroke-width="1.1"/>
<text x="293.6" y="96.72500000000001" font-size="6.4" text-anchor="end" font-weight="normal" fill="#444">25</text>
<line x1="295.60" y1="73.15" x2="298.60" y2="73.15" stroke="#111" stroke-width="1.1"/>
<text x="293.6" y="75.35000000000001" font-size="6.4" text-anchor="end" font-weight="normal" fill="#444">50</text>
<line x1="295.60" y1="51.78" x2="298.60" y2="51.78" stroke="#111" stroke-width="1.1"/>
<text x="293.6" y="53.97500000000001" font-size="6.4" text-anchor="end" font-weight="normal" fill="#444">75</text>
<line x1="295.60" y1="30.40" x2="298.60" y2="30.40" stroke="#111" stroke-width="1.1"/>
<text x="293.6" y="32.60000000000001" font-size="6.4" text-anchor="end" font-weight="normal" fill="#444">100</text>
<line x1="298.60" y1="116.20" x2="298.60" y2="118.60" stroke="#111" stroke-width="1"/>
<text x="298.6" y="127.9" font-size="6.4" text-anchor="middle" font-weight="normal" fill="#444">0</text>
<line x1="312.86" y1="116.20" x2="312.86" y2="118.60" stroke="#111" stroke-width="1"/>
<text x="312.8625" y="127.9" font-size="6.4" text-anchor="middle" font-weight="normal" fill="#444">25</text>
<line x1="327.12" y1="116.20" x2="327.12" y2="118.60" stroke="#111" stroke-width="1"/>
<text x="327.125" y="127.9" font-size="6.4" text-anchor="middle" font-weight="normal" fill="#444">50</text>
<line x1="341.39" y1="116.20" x2="341.39" y2="118.60" stroke="#111" stroke-width="1"/>
<text x="341.38750000000005" y="127.9" font-size="6.4" text-anchor="middle" font-weight="normal" fill="#444">75</text>
<line x1="355.65" y1="116.20" x2="355.65" y2="118.60" stroke="#111" stroke-width="1"/>
<text x="355.65000000000003" y="127.9" font-size="6.4" text-anchor="middle" font-weight="normal" fill="#444">100</text>
<line x1="369.91" y1="116.20" x2="369.91" y2="118.60" stroke="#111" stroke-width="1"/>
<text x="369.9125" y="127.9" font-size="6.4" text-anchor="middle" font-weight="normal" fill="#444">125</text>
<line x1="384.18" y1="116.20" x2="384.18" y2="118.60" stroke="#111" stroke-width="1"/>
<text x="384.175" y="127.9" font-size="6.4" text-anchor="middle" font-weight="normal" fill="#444">150</text>
<line x1="398.44" y1="116.20" x2="398.44" y2="118.60" stroke="#111" stroke-width="1"/>
<text x="398.4375" y="127.9" font-size="6.4" text-anchor="middle" font-weight="normal" fill="#444">175</text>
<line x1="412.70" y1="116.20" x2="412.70" y2="118.60" stroke="#111" stroke-width="1"/>
<text x="412.70000000000005" y="127.9" font-size="6.4" text-anchor="middle" font-weight="normal" fill="#444">200</text>
<line x1="426.96" y1="116.20" x2="426.96" y2="118.60" stroke="#111" stroke-width="1"/>
<text x="426.96250000000003" y="127.9" font-size="6.4" text-anchor="middle" font-weight="normal" fill="#444">225</text>
<line x1="441.23" y1="116.20" x2="441.23" y2="118.60" stroke="#111" stroke-width="1"/>
<text x="441.225" y="127.9" font-size="6.4" text-anchor="middle" font-weight="normal" fill="#444">250</text>
<line x1="455.49" y1="116.20" x2="455.49" y2="118.60" stroke="#111" stroke-width="1"/>
<text x="455.4875" y="127.9" font-size="6.4" text-anchor="middle" font-weight="normal" fill="#444">275</text>
<line x1="469.75" y1="116.20" x2="469.75" y2="118.60" stroke="#111" stroke-width="1"/>
<text x="469.75" y="127.9" font-size="6.4" text-anchor="middle" font-weight="normal" fill="#444">300</text>
<text x="276.8" y="71.3" font-size="9.5" text-anchor="middle" font-weight="normal" fill="#222" textLength="59.5" lengthAdjust="spacingAndGlyphs" transform="rotate(-90 276.8 71.3)" stroke="#222" stroke-width="0.2">Engraftment %</text>
<text x="385.4" y="141.2" font-size="10" text-anchor="middle" font-weight="normal" fill="#222" textLength="99.6" lengthAdjust="spacingAndGlyphs" stroke="#222" stroke-width="0.25">Days after transplantation</text>
<path d="M298.60,107.35 L299.37,107.35 L300.14,107.35 L300.91,107.34 L301.68,107.33 L302.45,107.30 L303.22,107.25 L303.99,107.18 L304.76,107.08 L305.53,106.94 L306.30,106.76 L307.07,106.52 L307.84,106.23 L308.61,105.87 L309.38,105.43 L310.15,104.91 L310.92,104.29 L311.69,103.56 L312.46,102.72 L313.23,101.76 L314.00,100.66 L314.77,99.42 L315.54,98.01 L316.31,96.44 L317.08,94.69 L317.85,92.75 L318.62,90.60 L319.39,88.23 L320.16,85.64 L320.94,82.80 L321.71,79.70 L322.48,76.34 L323.25,72.70 L324.02,68.76 L324.79,64.51 L325.56,59.93 L326.33,55.02 L327.10,49.75 L327.87,44.12 L328.64,38.10 L329.41,31.68" fill="none" stroke="#2c4a82" stroke-width="1.8" stroke-linecap="round"/>
<path d="M298.60,110.77 L299.78,110.77 L300.97,110.77 L302.15,110.76 L303.34,110.74 L304.52,110.71 L305.70,110.66 L306.89,110.59 L308.07,110.48 L309.25,110.34 L310.44,110.14 L311.62,109.89 L312.81,109.58 L313.99,109.20 L315.17,108.73 L316.36,108.17 L317.54,107.52 L318.72,106.75 L319.91,105.86 L321.09,104.83 L322.28,103.67 L323.46,102.34 L324.64,100.85 L325.83,99.18 L327.01,97.32 L328.19,95.26 L329.38,92.98 L330.56,90.46 L331.75,87.71 L332.93,84.69 L334.11,81.41 L335.30,77.84 L336.48,73.96 L337.66,69.78 L338.85,65.26 L340.03,60.41 L341.22,55.19 L342.40,49.59 L343.58,43.61 L344.77,37.22 L345.95,30.40" fill="none" stroke="#2c4a82" stroke-width="1.8" stroke-linecap="round"/>
<path d="M298.60,113.34 L299.86,113.33 L301.12,113.33 L302.39,113.33 L303.65,113.31 L304.91,113.28 L306.17,113.24 L307.44,113.17 L308.70,113.07 L309.96,112.94 L311.22,112.77 L312.48,112.54 L313.75,112.26 L315.01,111.91 L316.27,111.49 L317.53,110.99 L318.80,110.39 L320.06,109.70 L321.32,108.89 L322.58,107.97 L323.84,106.91 L325.11,105.72 L326.37,104.37 L327.63,102.86 L328.89,101.18 L330.16,99.31 L331.42,97.24 L332.68,94.97 L333.94,92.48 L335.20,89.75 L336.47,86.78 L337.73,83.55 L338.99,80.05 L340.25,76.27 L341.52,72.19 L342.78,67.79 L344.04,63.07 L345.30,58.02 L346.56,52.60 L347.83,46.82 L349.09,40.66" fill="none" stroke="#2c4a82" stroke-width="1.8" stroke-linecap="round"/>
<path d="M298.60,114.19 L300.11,114.19 L301.62,114.19 L303.14,114.18 L304.65,114.17 L306.16,114.15 L307.67,114.11 L309.18,114.05 L310.69,113.96 L312.21,113.84 L313.72,113.69 L315.23,113.49 L316.74,113.24 L318.25,112.94 L319.77,112.56 L321.28,112.12 L322.79,111.59 L324.30,110.98 L325.81,110.27 L327.32,109.45 L328.84,108.52 L330.35,107.47 L331.86,106.28 L333.37,104.95 L334.88,103.46 L336.40,101.81 L337.91,99.99 L339.42,97.99 L340.93,95.79 L342.44,93.38 L343.95,90.76 L345.47,87.91 L346.98,84.82 L348.49,81.48 L350.00,77.88 L351.51,74.01 L353.03,69.84 L354.54,65.38 L356.05,60.60 L357.56,55.50 L359.07,50.07" fill="none" stroke="#2c4a82" stroke-width="1.8" stroke-linecap="round"/>
<path d="M298.60,114.62 L299.86,114.62 L301.12,114.62 L302.39,114.61 L303.65,114.60 L304.91,114.58 L306.17,114.55 L307.44,114.50 L308.70,114.43 L309.96,114.34 L311.22,114.21 L312.48,114.05 L313.75,113.85 L315.01,113.61 L316.27,113.31 L317.53,112.95 L318.80,112.52 L320.06,112.03 L321.32,111.46 L322.58,110.80 L323.84,110.05 L325.11,109.19 L326.37,108.23 L327.63,107.16 L328.89,105.96 L330.16,104.63 L331.42,103.16 L332.68,101.55 L333.94,99.77 L335.20,97.83 L336.47,95.72 L337.73,93.42 L338.99,90.93 L340.25,88.24 L341.52,85.33 L342.78,82.20 L344.04,78.84 L345.30,75.24 L346.56,71.39 L347.83,67.28 L349.09,62.89" fill="none" stroke="#2c4a82" stroke-width="1.8" stroke-linecap="round"/>
<path d="M298.60,115.05 L300.05,115.04 L301.51,115.04 L302.96,115.04 L304.42,115.03 L305.87,115.02 L307.33,114.99 L308.78,114.95 L310.24,114.90 L311.69,114.82 L313.15,114.72 L314.60,114.59 L316.06,114.43 L317.51,114.23 L318.97,113.98 L320.42,113.69 L321.88,113.35 L323.33,112.95 L324.79,112.48 L326.24,111.95 L327.70,111.34 L329.15,110.65 L330.61,109.88 L332.06,109.01 L333.51,108.04 L334.97,106.96 L336.42,105.77 L337.88,104.46 L339.33,103.02 L340.79,101.45 L342.24,99.74 L343.70,97.88 L345.15,95.86 L346.61,93.68 L348.06,91.32 L349.52,88.79 L350.97,86.07 L352.43,83.15 L353.88,80.03 L355.34,76.70 L356.79,73.15" fill="none" stroke="#2c4a82" stroke-width="1.8" stroke-linecap="round"/>
<path d="M304.31,115.05 L305.70,115.04 L307.10,115.04 L308.50,115.03 L309.90,115.02 L311.29,115.00 L312.69,114.96 L314.09,114.91 L315.49,114.85 L316.88,114.77 L318.28,114.66 L319.68,114.54 L321.08,114.39 L322.48,114.21 L323.87,114.00 L325.27,113.76 L326.67,113.49 L328.07,113.17 L329.46,112.82 L330.86,112.43 L332.26,112.00 L333.66,111.52 L335.05,110.99 L336.45,110.41 L337.85,109.78 L339.25,109.10 L340.65,108.35 L342.04,107.55 L343.44,106.69 L344.84,105.76 L346.24,104.76 L347.63,103.70 L349.03,102.57 L350.43,101.36 L351.83,100.08 L353.23,98.72 L354.62,97.28 L356.02,95.76 L357.42,94.15 L358.82,92.46 L360.21,90.68" fill="none" stroke="#2c4a82" stroke-width="1.8" stroke-linecap="round"/>
<path d="M298.60,114.62 L300.57,114.62 L302.54,114.62 L304.50,114.61 L306.47,114.60 L308.44,114.58 L310.41,114.54 L312.38,114.48 L314.35,114.40 L316.31,114.29 L318.28,114.14 L320.25,113.95 L322.22,113.71 L324.19,113.42 L326.16,113.07 L328.12,112.64 L330.09,112.14 L332.06,111.56 L334.03,110.88 L336.00,110.10 L337.96,109.21 L339.93,108.21 L341.90,107.07 L343.87,105.80 L345.84,104.39 L347.81,102.82 L349.77,101.08 L351.74,99.17 L353.71,97.07 L355.68,94.78 L357.65,92.28 L359.61,89.57 L361.58,86.62 L363.55,83.44 L365.52,80.00 L367.49,76.31 L369.46,72.34 L371.42,68.08 L373.39,63.53 L375.36,58.67 L377.33,53.49" fill="none" stroke="#2c4a82" stroke-width="1.8" stroke-linecap="round"/>
<path d="M298.60,113.34 L301.80,113.33 L305.00,113.32 L308.21,113.30 L311.41,113.25 L314.61,113.17 L317.81,113.06 L321.01,112.89 L324.22,112.67 L327.42,112.40 L330.62,112.05 L333.82,111.62 L337.02,111.11 L340.23,110.50 L343.43,109.80 L346.63,108.98 L349.83,108.05 L353.03,107.00 L356.23,105.82 L359.44,104.49 L362.64,103.02 L365.84,101.40 L369.04,99.61 L372.24,97.65 L375.45,95.51 L378.65,93.19 L381.85,90.68 L385.05,87.96 L388.25,85.03 L391.46,81.89 L394.66,78.53 L397.86,74.93 L401.06,71.09 L404.26,67.01 L407.47,62.67 L410.67,58.06 L413.87,53.19 L417.07,48.03 L420.27,42.60 L423.48,36.86 L426.68,30.83" fill="none" stroke="#2c4a82" stroke-width="1.8" stroke-linecap="round"/>
<path d="M298.60,114.62 L301.75,114.62 L304.90,114.61 L308.06,114.61 L311.21,114.59 L314.36,114.57 L317.51,114.53 L320.66,114.47 L323.82,114.39 L326.97,114.29 L330.12,114.15 L333.27,113.99 L336.42,113.78 L339.58,113.54 L342.73,113.25 L345.88,112.91 L349.03,112.52 L352.18,112.07 L355.34,111.56 L358.49,110.99 L361.64,110.34 L364.79,109.61 L367.94,108.81 L371.10,107.92 L374.25,106.95 L377.40,105.88 L380.55,104.71 L383.70,103.44 L386.86,102.06 L390.01,100.56 L393.16,98.95 L396.31,97.22 L399.46,95.36 L402.62,93.37 L405.77,91.24 L408.92,88.96 L412.07,86.54 L415.22,83.97 L418.38,81.24 L421.53,78.35 L424.68,75.29" fill="none" stroke="#2c4a82" stroke-width="1.8" stroke-linecap="round"/>
<path d="M298.60,115.05 L301.96,115.04 L305.32,115.04 L308.68,115.04 L312.04,115.03 L315.39,115.01 L318.75,114.98 L322.11,114.94 L325.47,114.89 L328.83,114.81 L332.19,114.72 L335.55,114.61 L338.91,114.46 L342.26,114.29 L345.62,114.09 L348.98,113.86 L352.34,113.59 L355.70,113.28 L359.06,112.92 L362.42,112.52 L365.78,112.07 L369.14,111.56 L372.49,111.01 L375.85,110.39 L379.21,109.71 L382.57,108.96 L385.93,108.15 L389.29,107.27 L392.65,106.31 L396.01,105.27 L399.36,104.15 L402.72,102.94 L406.08,101.65 L409.44,100.26 L412.80,98.78 L416.16,97.20 L419.52,95.52 L422.88,93.73 L426.24,91.83 L429.59,89.81 L432.95,87.69" fill="none" stroke="#2c4a82" stroke-width="1.8" stroke-linecap="round"/>
<path d="M298.60,115.39 L302.13,115.39 L305.66,115.39 L309.19,115.38 L312.72,115.38 L316.25,115.37 L319.78,115.35 L323.31,115.32 L326.84,115.29 L330.37,115.24 L333.90,115.17 L337.43,115.08 L340.96,114.98 L344.49,114.84 L348.02,114.68 L351.55,114.49 L355.08,114.27 L358.61,114.00 L362.14,113.69 L365.67,113.34 L369.20,112.94 L372.73,112.48 L376.26,111.97 L379.79,111.39 L383.32,110.75 L386.85,110.04 L390.38,109.25 L393.91,108.39 L397.44,107.44 L400.97,106.40 L404.50,105.27 L408.03,104.04 L411.56,102.70 L415.09,101.26 L418.62,99.70 L422.15,98.03 L425.68,96.23 L429.21,94.30 L432.74,92.24 L436.27,90.03 L439.80,87.69" fill="none" stroke="#2c4a82" stroke-width="1.8" stroke-linecap="round"/>
<path d="M355.65,115.56 L358.19,115.56 L360.73,115.56 L363.27,115.56 L365.80,115.56 L368.34,115.55 L370.88,115.55 L373.42,115.54 L375.96,115.52 L378.50,115.50 L381.04,115.47 L383.58,115.43 L386.11,115.38 L388.65,115.31 L391.19,115.22 L393.73,115.11 L396.27,114.98 L398.81,114.82 L401.35,114.63 L403.89,114.41 L406.42,114.15 L408.96,113.84 L411.50,113.49 L414.04,113.09 L416.58,112.63 L419.12,112.11 L421.66,111.53 L424.20,110.87 L426.73,110.14 L429.27,109.32 L431.81,108.42 L434.35,107.42 L436.89,106.31 L439.43,105.10 L441.97,103.78 L444.51,102.33 L447.04,100.75 L449.58,99.03 L452.12,97.17 L454.66,95.16 L457.20,92.99" fill="none" stroke="#2c4a82" stroke-width="1.8" stroke-linecap="round"/>
<path d="M298.60,112.05 L299.95,112.05 L301.31,112.05 L302.66,112.05 L304.02,112.03 L305.37,112.02 L306.73,111.99 L308.08,111.96 L309.44,111.91 L310.79,111.85 L312.15,111.78 L313.50,111.69 L314.86,111.58 L316.21,111.45 L317.57,111.30 L318.92,111.13 L320.28,110.93 L321.63,110.71 L322.99,110.46 L324.34,110.17 L325.70,109.86 L327.05,109.52 L328.41,109.14 L329.76,108.72 L331.12,108.27 L332.47,107.77 L333.83,107.24 L335.18,106.66 L336.54,106.04 L337.89,105.37 L339.25,104.66 L340.60,103.89 L341.96,103.08 L343.31,102.21 L344.67,101.29 L346.02,100.31 L347.38,99.27 L348.73,98.18 L350.09,97.02 L351.44,95.81 L352.80,94.53" fill="none" stroke="#2c4a82" stroke-width="1.8" stroke-linecap="round"/>
<path d="M298.60,113.76 L300.88,113.76 L303.16,113.76 L305.45,113.76 L307.73,113.75 L310.01,113.75 L312.29,113.74 L314.57,113.72 L316.86,113.70 L319.14,113.67 L321.42,113.64 L323.70,113.59 L325.98,113.54 L328.27,113.48 L330.55,113.41 L332.83,113.33 L335.11,113.24 L337.39,113.14 L339.68,113.02 L341.96,112.89 L344.24,112.75 L346.52,112.59 L348.80,112.41 L351.09,112.22 L353.37,112.01 L355.65,111.78 L357.93,111.53 L360.21,111.26 L362.50,110.98 L364.78,110.67 L367.06,110.34 L369.34,109.98 L371.62,109.60 L373.91,109.20 L376.19,108.77 L378.47,108.32 L380.75,107.84 L383.03,107.33 L385.32,106.80 L387.60,106.23 L389.88,105.64" fill="none" stroke="#2c4a82" stroke-width="1.8" stroke-linecap="round"/>
<path d="M298.60,114.87 L301.45,114.87 L304.31,114.87 L307.16,114.87 L310.01,114.87 L312.86,114.86 L315.72,114.85 L318.57,114.84 L321.42,114.82 L324.27,114.80 L327.12,114.77 L329.98,114.74 L332.83,114.69 L335.68,114.65 L338.54,114.59 L341.39,114.52 L344.24,114.45 L347.09,114.36 L349.95,114.27 L352.80,114.16 L355.65,114.04 L358.50,113.91 L361.36,113.76 L364.21,113.61 L367.06,113.43 L369.91,113.25 L372.77,113.04 L375.62,112.82 L378.47,112.59 L381.32,112.33 L384.18,112.06 L387.03,111.77 L389.88,111.46 L392.73,111.13 L395.59,110.78 L398.44,110.41 L401.29,110.01 L404.14,109.60 L407.00,109.16 L409.85,108.69 L412.70,108.21" fill="none" stroke="#2c4a82" stroke-width="1.8" stroke-linecap="round"/>
<path d="M298.60,114.19 L300.45,114.19 L302.31,114.19 L304.16,114.19 L306.02,114.18 L307.87,114.17 L309.72,114.15 L311.58,114.13 L313.43,114.10 L315.29,114.06 L317.14,114.02 L319.00,113.96 L320.85,113.89 L322.70,113.81 L324.56,113.71 L326.41,113.60 L328.27,113.48 L330.12,113.34 L331.97,113.18 L333.83,113.00 L335.68,112.80 L337.54,112.58 L339.39,112.34 L341.24,112.08 L343.10,111.79 L344.95,111.48 L346.81,111.14 L348.66,110.77 L350.52,110.38 L352.37,109.95 L354.22,109.50 L356.08,109.02 L357.93,108.50 L359.79,107.95 L361.64,107.36 L363.49,106.74 L365.35,106.09 L367.20,105.39 L369.06,104.66 L370.91,103.89 L372.77,103.08" fill="none" stroke="#2c4a82" stroke-width="1.8" stroke-linecap="round"/>
<path d="M298.60,113.34 L298.97,113.33 L299.34,113.33 L299.71,113.33 L300.08,113.33 L300.45,113.33 L300.82,113.33 L301.20,113.32 L301.57,113.31 L301.94,113.29 L302.31,113.26 L302.68,113.21 L303.05,113.14 L303.42,113.05 L303.79,112.92 L304.16,112.75 L304.53,112.52 L304.90,112.23 L305.27,111.87 L305.65,111.41 L306.02,110.85 L306.39,110.16 L306.76,109.33 L307.13,108.34 L307.50,107.15 L307.87,105.75 L308.24,104.11 L308.61,102.19 L308.98,99.97 L309.35,97.41 L309.72,94.47 L310.10,91.10 L310.47,87.28 L310.84,82.95 L311.21,78.05 L311.58,72.55 L311.95,66.38 L312.32,59.49 L312.69,51.81 L313.06,43.27 L313.43,33.82" fill="none" stroke="#a8153f" stroke-width="2.0" stroke-dasharray="0.01 3.0" stroke-linecap="round"/>
<path d="M298.60,114.19 L299.07,114.19 L299.54,114.19 L300.01,114.19 L300.48,114.19 L300.95,114.19 L301.42,114.18 L301.89,114.18 L302.37,114.16 L302.84,114.14 L303.31,114.11 L303.78,114.06 L304.25,113.99 L304.72,113.90 L305.19,113.77 L305.66,113.59 L306.13,113.37 L306.60,113.08 L307.07,112.71 L307.54,112.25 L308.01,111.68 L308.48,110.98 L308.95,110.15 L309.43,109.14 L309.90,107.94 L310.37,106.53 L310.84,104.86 L311.31,102.93 L311.78,100.68 L312.25,98.09 L312.72,95.12 L313.19,91.72 L313.66,87.85 L314.13,83.47 L314.60,78.53 L315.07,72.97 L315.54,66.73 L316.01,59.76 L316.49,52.00 L316.96,43.38 L317.43,33.82" fill="none" stroke="#a8153f" stroke-width="2.0" stroke-dasharray="0.01 3.0" stroke-linecap="round"/>
<path d="M301.45,115.05 L302.01,115.04 L302.56,115.04 L303.12,115.04 L303.68,115.04 L304.23,115.04 L304.79,115.04 L305.35,115.03 L305.90,115.02 L306.46,115.00 L307.01,114.97 L307.57,114.92 L308.13,114.86 L308.68,114.76 L309.24,114.64 L309.80,114.47 L310.35,114.25 L310.91,113.97 L311.46,113.61 L312.02,113.16 L312.58,112.61 L313.13,111.94 L313.69,111.13 L314.25,110.15 L314.80,108.99 L315.36,107.62 L315.91,106.02 L316.47,104.14 L317.03,101.97 L317.58,99.46 L318.14,96.58 L318.70,93.29 L319.25,89.55 L319.81,85.31 L320.36,80.52 L320.92,75.14 L321.48,69.10 L322.03,62.36 L322.59,54.84 L323.15,46.49 L323.70,37.24" fill="none" stroke="#a8153f" stroke-width="2.0" stroke-dasharray="0.01 3.0" stroke-linecap="round"/>
<path d="M304.31,115.05 L305.06,115.04 L305.82,115.04 L306.57,115.04 L307.33,115.04 L308.08,115.04 L308.84,115.04 L309.60,115.03 L310.35,115.02 L311.11,115.00 L311.86,114.97 L312.62,114.92 L313.38,114.85 L314.13,114.75 L314.89,114.62 L315.64,114.44 L316.40,114.21 L317.16,113.92 L317.91,113.55 L318.67,113.08 L319.42,112.51 L320.18,111.81 L320.94,110.96 L321.69,109.94 L322.45,108.73 L323.20,107.30 L323.96,105.62 L324.71,103.66 L325.47,101.39 L326.23,98.78 L326.98,95.77 L327.74,92.34 L328.49,88.43 L329.25,84.00 L330.01,79.01 L330.76,73.38 L331.52,67.08 L332.27,60.04 L333.03,52.19 L333.79,43.48 L334.54,33.82" fill="none" stroke="#a8153f" stroke-width="2.0" stroke-dasharray="0.01 3.0" stroke-linecap="round"/>
<path d="M304.31,115.47 L305.19,115.47 L306.07,115.47 L306.96,115.47 L307.84,115.47 L308.73,115.47 L309.61,115.47 L310.49,115.46 L311.38,115.45 L312.26,115.43 L313.15,115.40 L314.03,115.35 L314.92,115.28 L315.80,115.19 L316.68,115.06 L317.57,114.89 L318.45,114.67 L319.34,114.39 L320.22,114.03 L321.11,113.58 L321.99,113.03 L322.87,112.35 L323.76,111.54 L324.64,110.56 L325.53,109.39 L326.41,108.01 L327.30,106.40 L328.18,104.51 L329.06,102.32 L329.95,99.80 L330.83,96.91 L331.72,93.60 L332.60,89.84 L333.49,85.57 L334.37,80.76 L335.25,75.35 L336.14,69.28 L337.02,62.49 L337.91,54.94 L338.79,46.54 L339.68,37.24" fill="none" stroke="#a8153f" stroke-width="2.0" stroke-dasharray="0.01 3.0" stroke-linecap="round"/>
<path d="M298.60,114.19 L299.03,114.19 L299.46,114.19 L299.88,114.19 L300.31,114.18 L300.74,114.18 L301.17,114.16 L301.60,114.14 L302.02,114.10 L302.45,114.05 L302.88,113.98 L303.31,113.88 L303.73,113.75 L304.16,113.59 L304.59,113.38 L305.02,113.12 L305.45,112.81 L305.87,112.43 L306.30,111.98 L306.73,111.45 L307.16,110.82 L307.59,110.10 L308.01,109.26 L308.44,108.30 L308.87,107.21 L309.30,105.97 L309.72,104.57 L310.15,103.01 L310.58,101.26 L311.01,99.31 L311.44,97.15 L311.86,94.76 L312.29,92.13 L312.72,89.24 L313.15,86.07 L313.58,82.62 L314.00,78.85 L314.43,74.76 L314.86,70.32 L315.29,65.51 L315.72,60.33" fill="none" stroke="#a8153f" stroke-width="2.0" stroke-dasharray="0.01 3.0" stroke-linecap="round"/>
<path d="M301.45,115.05 L302.09,115.04 L302.74,115.04 L303.38,115.04 L304.02,115.04 L304.66,115.03 L305.30,115.02 L305.95,115.00 L306.59,114.96 L307.23,114.92 L307.87,114.85 L308.51,114.76 L309.15,114.64 L309.80,114.48 L310.44,114.29 L311.08,114.05 L311.72,113.75 L312.36,113.40 L313.01,112.98 L313.65,112.48 L314.29,111.89 L314.93,111.21 L315.57,110.43 L316.21,109.53 L316.86,108.51 L317.50,107.35 L318.14,106.04 L318.78,104.57 L319.42,102.93 L320.07,101.11 L320.71,99.08 L321.35,96.85 L321.99,94.38 L322.63,91.68 L323.27,88.71 L323.92,85.48 L324.56,81.95 L325.20,78.11 L325.84,73.96 L326.48,69.46 L327.12,64.60" fill="none" stroke="#a8153f" stroke-width="2.0" stroke-dasharray="0.01 3.0" stroke-linecap="round"/>
<path d="M304.31,115.05 L304.93,115.04 L305.56,115.04 L306.19,115.04 L306.82,115.04 L307.44,115.03 L308.07,115.02 L308.70,115.01 L309.33,114.98 L309.95,114.94 L310.58,114.88 L311.21,114.81 L311.84,114.71 L312.46,114.58 L313.09,114.42 L313.72,114.22 L314.35,113.97 L314.97,113.68 L315.60,113.33 L316.23,112.91 L316.86,112.43 L317.48,111.86 L318.11,111.21 L318.74,110.47 L319.37,109.62 L319.99,108.65 L320.62,107.57 L321.25,106.35 L321.88,104.99 L322.50,103.47 L323.13,101.79 L323.76,99.93 L324.39,97.88 L325.01,95.64 L325.64,93.18 L326.27,90.49 L326.90,87.56 L327.52,84.37 L328.15,80.92 L328.78,77.18 L329.41,73.15" fill="none" stroke="#a8153f" stroke-width="2.0" stroke-dasharray="0.01 3.0" stroke-linecap="round"/>
<path d="M298.60,114.19 L299.17,114.19 L299.74,114.19 L300.31,114.19 L300.88,114.19 L301.45,114.19 L302.02,114.18 L302.59,114.18 L303.16,114.16 L303.73,114.14 L304.31,114.11 L304.88,114.06 L305.45,113.99 L306.02,113.90 L306.59,113.77 L307.16,113.59 L307.73,113.37 L308.30,113.08 L308.87,112.71 L309.44,112.25 L310.01,111.68 L310.58,110.98 L311.15,110.15 L311.72,109.14 L312.29,107.94 L312.86,106.53 L313.43,104.86 L314.00,102.93 L314.57,100.68 L315.14,98.09 L315.72,95.12 L316.29,91.72 L316.86,87.85 L317.43,83.47 L318.00,78.53 L318.57,72.97 L319.14,66.73 L319.71,59.76 L320.28,52.00 L320.85,43.38 L321.42,33.82" fill="none" stroke="#a8153f" stroke-width="2.0" stroke-dasharray="0.01 3.0" stroke-linecap="round"/>
<path d="M298.60,114.19 L299.13,114.19 L299.66,114.19 L300.18,114.19 L300.71,114.19 L301.24,114.18 L301.77,114.17 L302.29,114.15 L302.82,114.12 L303.35,114.07 L303.88,114.01 L304.40,113.93 L304.93,113.82 L305.46,113.68 L305.99,113.51 L306.52,113.29 L307.04,113.03 L307.57,112.71 L308.10,112.33 L308.63,111.88 L309.15,111.36 L309.68,110.75 L310.21,110.04 L310.74,109.24 L311.27,108.32 L311.79,107.28 L312.32,106.10 L312.85,104.78 L313.38,103.31 L313.90,101.67 L314.43,99.85 L314.96,97.84 L315.49,95.63 L316.01,93.20 L316.54,90.54 L317.07,87.63 L317.60,84.46 L318.13,81.02 L318.65,77.28 L319.18,73.24 L319.71,68.88" fill="none" stroke="#a8153f" stroke-width="2.0" stroke-dasharray="0.01 3.0" stroke-linecap="round"/>
<text x="435.2" y="40.8" font-size="7.6" text-anchor="start" font-weight="normal" fill="#222" textLength="47.9" lengthAdjust="spacingAndGlyphs">Cells in S-phase</text>
<line x1="444.00" y1="48.60" x2="452.70" y2="48.60" stroke="#a8153f" stroke-width="1.8" stroke-dasharray="0.01 4.2" stroke-linecap="round"/>
<line x1="443.00" y1="57.40" x2="452.70" y2="57.40" stroke="#2c4a82" stroke-width="1.9"/>
<text x="455.6" y="51" font-size="7" text-anchor="start" font-weight="normal" fill="#222" textLength="16.3" lengthAdjust="spacingAndGlyphs">&gt;40%</text>
<text x="455.6" y="59.8" font-size="7" text-anchor="start" font-weight="normal" fill="#222" textLength="16.3" lengthAdjust="spacingAndGlyphs">&lt;40%</text>
<line x1="298.60" y1="167.00" x2="298.60" y2="192.80" stroke="#111" stroke-width="1.5"/>
<line x1="297.90" y1="192.10" x2="473.00" y2="192.10" stroke="#111" stroke-width="1.6"/>
<line x1="295.60" y1="173.30" x2="298.60" y2="173.30" stroke="#111" stroke-width="1.1"/>
<line x1="295.60" y1="186.00" x2="298.60" y2="186.00" stroke="#111" stroke-width="1.1"/>
<text x="292.3" y="175.8" font-size="6.6" text-anchor="end" font-weight="normal" fill="#333" textLength="16.8" lengthAdjust="spacingAndGlyphs">&gt;40%</text>
<text x="292.3" y="188.4" font-size="6.6" text-anchor="end" font-weight="normal" fill="#333" textLength="16.8" lengthAdjust="spacingAndGlyphs">&lt;40%</text>
<line x1="298.60" y1="192.10" x2="298.60" y2="194.50" stroke="#111" stroke-width="1"/>
<text x="298.6" y="204.0" font-size="6.4" text-anchor="middle" font-weight="normal" fill="#444">0</text>
<line x1="312.86" y1="192.10" x2="312.86" y2="194.50" stroke="#111" stroke-width="1"/>
<text x="312.8625" y="204.0" font-size="6.4" text-anchor="middle" font-weight="normal" fill="#444">25</text>
<line x1="327.12" y1="192.10" x2="327.12" y2="194.50" stroke="#111" stroke-width="1"/>
<text x="327.125" y="204.0" font-size="6.4" text-anchor="middle" font-weight="normal" fill="#444">50</text>
<line x1="341.39" y1="192.10" x2="341.39" y2="194.50" stroke="#111" stroke-width="1"/>
<text x="341.38750000000005" y="204.0" font-size="6.4" text-anchor="middle" font-weight="normal" fill="#444">75</text>
<line x1="355.65" y1="192.10" x2="355.65" y2="194.50" stroke="#111" stroke-width="1"/>
<text x="355.65000000000003" y="204.0" font-size="6.4" text-anchor="middle" font-weight="normal" fill="#444">100</text>
<line x1="369.91" y1="192.10" x2="369.91" y2="194.50" stroke="#111" stroke-width="1"/>
<text x="369.9125" y="204.0" font-size="6.4" text-anchor="middle" font-weight="normal" fill="#444">125</text>
<line x1="384.18" y1="192.10" x2="384.18" y2="194.50" stroke="#111" stroke-width="1"/>
<text x="384.175" y="204.0" font-size="6.4" text-anchor="middle" font-weight="normal" fill="#444">150</text>
<line x1="398.44" y1="192.10" x2="398.44" y2="194.50" stroke="#111" stroke-width="1"/>
<text x="398.4375" y="204.0" font-size="6.4" text-anchor="middle" font-weight="normal" fill="#444">175</text>
<line x1="412.70" y1="192.10" x2="412.70" y2="194.50" stroke="#111" stroke-width="1"/>
<text x="412.70000000000005" y="204.0" font-size="6.4" text-anchor="middle" font-weight="normal" fill="#444">200</text>
<line x1="426.96" y1="192.10" x2="426.96" y2="194.50" stroke="#111" stroke-width="1"/>
<text x="426.96250000000003" y="204.0" font-size="6.4" text-anchor="middle" font-weight="normal" fill="#444">225</text>
<line x1="441.23" y1="192.10" x2="441.23" y2="194.50" stroke="#111" stroke-width="1"/>
<text x="441.225" y="204.0" font-size="6.4" text-anchor="middle" font-weight="normal" fill="#444">250</text>
<line x1="455.49" y1="192.10" x2="455.49" y2="194.50" stroke="#111" stroke-width="1"/>
<text x="455.4875" y="204.0" font-size="6.4" text-anchor="middle" font-weight="normal" fill="#444">275</text>
<line x1="469.75" y1="192.10" x2="469.75" y2="194.50" stroke="#111" stroke-width="1"/>
<text x="469.75" y="204.0" font-size="6.4" text-anchor="middle" font-weight="normal" fill="#444">300</text>
<text x="385.5" y="217.2" font-size="10" text-anchor="middle" font-weight="normal" fill="#222" textLength="138.9" lengthAdjust="spacingAndGlyphs" stroke="#222" stroke-width="0.25">Time to 25% ALL blast in PB (days)</text>
<circle cx="307" cy="173.6" r="2.1" fill="#b0123e"/>
<circle cx="309.8" cy="175.6" r="2.1" fill="#b0123e"/>
<circle cx="311" cy="171.5" r="2.1" fill="#b0123e"/>
<circle cx="312.1" cy="169.8" r="2.1" fill="#b0123e"/>
<circle cx="313.3" cy="173.6" r="2.1" fill="#b0123e"/>
<circle cx="315.6" cy="173" r="2.1" fill="#b0123e"/>
<circle cx="317.9" cy="173.8" r="2.1" fill="#b0123e"/>
<circle cx="319.6" cy="175" r="2.1" fill="#b0123e"/>
<circle cx="321.4" cy="172.5" r="2.1" fill="#b0123e"/>
<circle cx="323.7" cy="173" r="2.1" fill="#b0123e"/>
<circle cx="325.4" cy="171" r="2.1" fill="#b0123e"/>
<circle cx="326.6" cy="176.3" r="2.1" fill="#b0123e"/>
<circle cx="327.7" cy="169.8" r="2.1" fill="#b0123e"/>
<circle cx="328.9" cy="169.5" r="2.1" fill="#b0123e"/>
<circle cx="308.5" cy="172" r="2.1" fill="#b0123e"/>
<circle cx="310.5" cy="174" r="2.1" fill="#b0123e"/>
<circle cx="312" cy="176.2" r="2.1" fill="#b0123e"/>
<circle cx="314.5" cy="172" r="2.1" fill="#b0123e"/>
<circle cx="316.8" cy="174.5" r="2.1" fill="#b0123e"/>
<circle cx="320.5" cy="173.5" r="2.1" fill="#b0123e"/>
<circle cx="322.5" cy="174.5" r="2.1" fill="#b0123e"/>
<circle cx="324.5" cy="174.2" r="2.1" fill="#b0123e"/>
<circle cx="327" cy="172.5" r="2.1" fill="#b0123e"/>
<circle cx="319.1" cy="186" r="2.2" fill="#2c4a82"/>
<circle cx="322.5" cy="184.8" r="2.2" fill="#2c4a82"/>
<circle cx="324.3" cy="186.8" r="2.2" fill="#2c4a82"/>
<circle cx="334.6" cy="183.6" r="2.2" fill="#2c4a82"/>
<circle cx="339.6" cy="189.1" r="2.2" fill="#2c4a82"/>
<circle cx="344.4" cy="184.8" r="2.2" fill="#2c4a82"/>
<circle cx="346.2" cy="186.5" r="2.2" fill="#2c4a82"/>
<circle cx="358.5" cy="183.2" r="2.2" fill="#2c4a82"/>
<circle cx="360.4" cy="189.5" r="2.2" fill="#2c4a82"/>
<circle cx="374.7" cy="186" r="2.2" fill="#2c4a82"/>
<circle cx="406.1" cy="185.9" r="2.2" fill="#2c4a82"/>
<circle cx="426.6" cy="185.9" r="2.2" fill="#2c4a82"/>
<circle cx="435.2" cy="185.9" r="2.2" fill="#2c4a82"/>
<circle cx="457.3" cy="185.9" r="2.2" fill="#2c4a82"/>
<line x1="464.80" y1="170.60" x2="464.80" y2="187.30" stroke="#222" stroke-width="1.2"/>
<line x1="462.70" y1="170.60" x2="467.30" y2="170.60" stroke="#222" stroke-width="1.2"/>
<line x1="462.70" y1="187.30" x2="467.30" y2="187.30" stroke="#222" stroke-width="1.2"/>
<text x="472.9" y="180.5" font-size="9" text-anchor="middle" font-weight="normal" fill="#222" textLength="8.2" lengthAdjust="spacingAndGlyphs">***</text>
<text x="254.0" y="246.0" font-size="12.2" text-anchor="start" font-weight="bold" fill="#000">C</text>
<rect x="279.60" y="251.90" width="10.50" height="37.20" fill="#fafafa" stroke="#a8a8a8" stroke-width="0.9"/>
<rect x="279.60" y="292.20" width="10.50" height="37.60" fill="#fafafa" stroke="#a8a8a8" stroke-width="0.9"/>
<text x="287.2" y="270.8" font-size="7.6" text-anchor="middle" font-weight="normal" fill="#222" textLength="31" lengthAdjust="spacingAndGlyphs" transform="rotate(-90 287.2 270.8)">Cytarabine</text>
<text x="287.2" y="310.2" font-size="7.6" text-anchor="middle" font-weight="normal" fill="#222" textLength="30" lengthAdjust="spacingAndGlyphs" transform="rotate(-90 287.2 310.2)">Docetaxel</text>
<line x1="290.60" y1="252.00" x2="513.00" y2="252.00" stroke="#111" stroke-width="1.8"/>
<line x1="290.60" y1="290.70" x2="513.00" y2="290.70" stroke="#111" stroke-width="1.8"/>
<line x1="512.20" y1="251.20" x2="512.20" y2="330.40" stroke="#111" stroke-width="1.5"/>
<line x1="290.60" y1="329.60" x2="513.00" y2="329.60" stroke="#111" stroke-width="1.5"/>
<line x1="290.60" y1="252.00" x2="290.60" y2="329.60" stroke="#c8c8c8" stroke-width="0.8"/>
<line x1="320.50" y1="329.60" x2="320.50" y2="332.60" stroke="#111" stroke-width="1"/>
<text x="320.5" y="342.3" font-size="6.8" text-anchor="middle" font-weight="normal" fill="#444">0</text>
<line x1="365.80" y1="329.60" x2="365.80" y2="332.60" stroke="#111" stroke-width="1"/>
<text x="365.8" y="342.3" font-size="6.8" text-anchor="middle" font-weight="normal" fill="#444">1</text>
<line x1="411.10" y1="329.60" x2="411.10" y2="332.60" stroke="#111" stroke-width="1"/>
<text x="411.1" y="342.3" font-size="6.8" text-anchor="middle" font-weight="normal" fill="#444">2</text>
<line x1="456.40" y1="329.60" x2="456.40" y2="332.60" stroke="#111" stroke-width="1"/>
<text x="456.4" y="342.3" font-size="6.8" text-anchor="middle" font-weight="normal" fill="#444">3</text>
<line x1="501.70" y1="329.60" x2="501.70" y2="332.60" stroke="#111" stroke-width="1"/>
<text x="501.7" y="342.3" font-size="6.8" text-anchor="middle" font-weight="normal" fill="#444">4</text>
<text x="401.6" y="355.8" font-size="11" text-anchor="middle" font-weight="normal" fill="#222" textLength="111" lengthAdjust="spacingAndGlyphs" stroke="#222" stroke-width="0.25">Concentration log IC50 (nM)</text>
<text x="274.8" y="289.9" font-size="9.2" text-anchor="middle" font-weight="normal" fill="#222" font-style="italic" transform="rotate(-90 274.8 289.9)">In vitro</text>
<text x="290.8" y="369.6" font-size="7.6" text-anchor="start" font-weight="normal" fill="#222" textLength="47.8" lengthAdjust="spacingAndGlyphs">Cells in S-phase</text>
<circle cx="350.1" cy="367.2" r="1.7" fill="#e2a5b8"/>
<text x="355.4" y="369.6" font-size="7" text-anchor="start" font-weight="normal" fill="#222" textLength="17" lengthAdjust="spacingAndGlyphs">&gt;40%</text>
<circle cx="383.8" cy="367.2" r="1.7" fill="#c3c3c9"/>
<text x="388.9" y="369.6" font-size="7" text-anchor="start" font-weight="normal" fill="#222" textLength="17" lengthAdjust="spacingAndGlyphs">&lt;40%</text>
<circle cx="302.5" cy="274" r="1.9" fill="#e3a7ba"/>
<circle cx="327.6" cy="270" r="1.9" fill="#e3a7ba"/>
<circle cx="329.2" cy="268" r="1.9" fill="#e3a7ba"/>
<circle cx="334.3" cy="268.7" r="1.9" fill="#e3a7ba"/>
<circle cx="352.8" cy="270.2" r="1.9" fill="#e3a7ba"/>
<circle cx="366.6" cy="269.8" r="1.9" fill="#e3a7ba"/>
<circle cx="457.3" cy="268.6" r="1.9" fill="#e3a7ba"/>
<circle cx="459.6" cy="267" r="1.9" fill="#e3a7ba"/>
<circle cx="488" cy="275" r="1.9" fill="#e3a7ba"/>
<circle cx="347.2" cy="275.5" r="1.9" fill="#bfc2cc"/>
<circle cx="357.4" cy="275.8" r="1.9" fill="#bfc2cc"/>
<circle cx="371.9" cy="268.5" r="1.9" fill="#bfc2cc"/>
<circle cx="442" cy="268.6" r="1.9" fill="#bfc2cc"/>
<circle cx="448.5" cy="270" r="1.9" fill="#bfc2cc"/>
<circle cx="448" cy="273" r="1.9" fill="#bfc2cc"/>
<circle cx="455.6" cy="273" r="1.9" fill="#bfc2cc"/>
<circle cx="468" cy="269.5" r="1.9" fill="#bfc2cc"/>
<circle cx="450.5" cy="269" r="1.9" fill="#bfc2cc"/>
<circle cx="301.5" cy="309.2" r="1.9" fill="#e3a7ba"/>
<circle cx="301" cy="312.6" r="1.9" fill="#e3a7ba"/>
<circle cx="316.5" cy="307" r="1.9" fill="#e3a7ba"/>
<circle cx="326.2" cy="309.6" r="1.9" fill="#e3a7ba"/>
<circle cx="333.5" cy="310.5" r="1.9" fill="#e3a7ba"/>
<circle cx="361.5" cy="307.8" r="1.9" fill="#e3a7ba"/>
<circle cx="376.5" cy="307.8" r="1.9" fill="#e3a7ba"/>
<circle cx="373.8" cy="313.7" r="1.9" fill="#e3a7ba"/>
<circle cx="402.4" cy="305.7" r="1.9" fill="#e3a7ba"/>
<circle cx="320.5" cy="274" r="1.9" fill="#e3a7ba"/>
<path d="M300.8,267.95 L303.25,270.4 L300.8,272.85 L298.35,270.4 Z" fill="#fff" stroke="#6e1736" stroke-width="1.0"/>
<circle cx="309.2" cy="273.2" r="2.00" fill="#a3163f"/>
<path d="M321.50,272.30 L325.50,276.30 M321.50,276.30 L325.50,272.30" stroke="#6e1736" stroke-width="1.05"/>
<rect x="417.20" y="266.10" width="4.00" height="4.00" fill="#8e1030" stroke="none" stroke-width="0"/>
<path d="M417.9,266.8 L420.5,269.4 M417.9,269.4 L420.5,266.8" stroke="#e7a0b4" stroke-width="0.6"/>
<path d="M433.25,275.25 L438.95,275.25 L436.1,269.95 Z" fill="#fff" stroke="#1f2f55" stroke-width="1.0" stroke-linejoin="round"/>
<path d="M498.75,268.85 L502.85,268.85 L500.8,272.55 Z" fill="#fff" stroke="#27386a" stroke-width="1.0" stroke-linejoin="round"/>
<circle cx="502.5" cy="273.5" r="1.95" fill="#fff" stroke="#27386a" stroke-width="1.0"/>
<path d="M336.8,304.55 L339.25,307 L336.8,309.45 L334.35,307 Z" fill="#fff" stroke="#6e1736" stroke-width="1.0"/>
<path d="M335.00,310.60 L339.00,314.60 M335.00,314.60 L339.00,310.60" stroke="#6e1736" stroke-width="1.05"/>
<circle cx="343.8" cy="312.6" r="1.90" fill="#a3163f"/>
<rect x="357.20" y="309.50" width="4.00" height="4.00" fill="#8e1030" stroke="none" stroke-width="0"/>
<path d="M357.9,310.2 L360.5,312.8 M357.9,312.8 L360.5,310.2" stroke="#e7a0b4" stroke-width="0.6"/>
<path d="M494.45,306.85 L498.55,306.85 L496.5,310.55 Z" fill="#fff" stroke="#27386a" stroke-width="1.0" stroke-linejoin="round"/>
<path d="M499.45,311.65 L503.55,311.65 L501.5,307.95 Z" fill="#fff" stroke="#27386a" stroke-width="1.0" stroke-linejoin="round"/>
<circle cx="502" cy="307.5" r="1.75" fill="#fff" stroke="#27386a" stroke-width="1.0"/>
<circle cx="500" cy="311.5" r="1.75" fill="#fff" stroke="#27386a" stroke-width="1.0"/>
<path d="M500.00,309.75 A1.75,1.75 0 0 0 500.00,313.25 Z" fill="#27386a"/>
<text x="7.6" y="412.0" font-size="12.2" text-anchor="start" font-weight="bold" fill="#000">D</text>
<text x="107" y="431.3" font-size="9" text-anchor="middle" font-weight="normal" fill="#222">Cytarabine</text>
<text x="226.7" y="431.3" font-size="9" text-anchor="middle" font-weight="normal" fill="#222">Docetaxel</text>
<text x="28.3" y="471.5" font-size="9.2" text-anchor="middle" font-weight="normal" fill="#222" font-style="italic" transform="rotate(-90 28.3 471.5)">In vitro</text>
<text x="39.8" y="472.9" font-size="9.6" text-anchor="middle" font-weight="normal" fill="#222" transform="rotate(-90 39.8 472.9)">Survival %</text>
<text x="169" y="536.6" font-size="11" text-anchor="middle" font-weight="normal" fill="#222" textLength="111" lengthAdjust="spacingAndGlyphs" stroke="#222" stroke-width="0.25">Concentration log IC50 (nM)</text>
<line x1="63.40" y1="436.50" x2="63.40" y2="511.90" stroke="#111" stroke-width="1.5"/>
<line x1="62.70" y1="511.20" x2="153.40" y2="511.20" stroke="#111" stroke-width="1.6"/>
<line x1="60.00" y1="511.20" x2="63.40" y2="511.20" stroke="#111" stroke-width="1.1"/>
<text x="58.0" y="513.4" font-size="6.3" text-anchor="end" font-weight="normal" fill="#444">0</text>
<line x1="60.00" y1="495.58" x2="63.40" y2="495.58" stroke="#111" stroke-width="1.1"/>
<text x="58.0" y="497.78" font-size="6.3" text-anchor="end" font-weight="normal" fill="#444">25</text>
<line x1="60.00" y1="479.96" x2="63.40" y2="479.96" stroke="#111" stroke-width="1.1"/>
<text x="58.0" y="482.15999999999997" font-size="6.3" text-anchor="end" font-weight="normal" fill="#444">50</text>
<line x1="60.00" y1="464.34" x2="63.40" y2="464.34" stroke="#111" stroke-width="1.1"/>
<text x="58.0" y="466.53999999999996" font-size="6.3" text-anchor="end" font-weight="normal" fill="#444">75</text>
<line x1="60.00" y1="448.72" x2="63.40" y2="448.72" stroke="#111" stroke-width="1.1"/>
<text x="58.0" y="450.91999999999996" font-size="6.3" text-anchor="end" font-weight="normal" fill="#444">100</text>
<line x1="63.40" y1="511.20" x2="63.40" y2="515.20" stroke="#111" stroke-width="1"/>
<line x1="81.20" y1="511.20" x2="81.20" y2="515.20" stroke="#111" stroke-width="1"/>
<line x1="99.13" y1="511.20" x2="99.13" y2="515.20" stroke="#111" stroke-width="1"/>
<line x1="117.06" y1="511.20" x2="117.06" y2="515.20" stroke="#111" stroke-width="1"/>
<line x1="134.99" y1="511.20" x2="134.99" y2="515.20" stroke="#111" stroke-width="1"/>
<line x1="152.92" y1="511.20" x2="152.92" y2="515.20" stroke="#111" stroke-width="1"/>
<line x1="68.67" y1="511.20" x2="68.67" y2="513.60" stroke="#111" stroke-width="0.8"/>
<line x1="71.82" y1="511.20" x2="71.82" y2="513.60" stroke="#111" stroke-width="0.8"/>
<line x1="74.06" y1="511.20" x2="74.06" y2="513.60" stroke="#111" stroke-width="0.8"/>
<line x1="75.80" y1="511.20" x2="75.80" y2="513.60" stroke="#111" stroke-width="0.8"/>
<line x1="77.22" y1="511.20" x2="77.22" y2="513.60" stroke="#111" stroke-width="0.8"/>
<line x1="78.42" y1="511.20" x2="78.42" y2="513.60" stroke="#111" stroke-width="0.8"/>
<line x1="79.46" y1="511.20" x2="79.46" y2="513.60" stroke="#111" stroke-width="0.8"/>
<line x1="80.38" y1="511.20" x2="80.38" y2="513.60" stroke="#111" stroke-width="0.8"/>
<line x1="86.60" y1="511.20" x2="86.60" y2="513.60" stroke="#111" stroke-width="0.8"/>
<line x1="89.75" y1="511.20" x2="89.75" y2="513.60" stroke="#111" stroke-width="0.8"/>
<line x1="91.99" y1="511.20" x2="91.99" y2="513.60" stroke="#111" stroke-width="0.8"/>
<line x1="93.73" y1="511.20" x2="93.73" y2="513.60" stroke="#111" stroke-width="0.8"/>
<line x1="95.15" y1="511.20" x2="95.15" y2="513.60" stroke="#111" stroke-width="0.8"/>
<line x1="96.35" y1="511.20" x2="96.35" y2="513.60" stroke="#111" stroke-width="0.8"/>
<line x1="97.39" y1="511.20" x2="97.39" y2="513.60" stroke="#111" stroke-width="0.8"/>
<line x1="98.31" y1="511.20" x2="98.31" y2="513.60" stroke="#111" stroke-width="0.8"/>
<line x1="104.53" y1="511.20" x2="104.53" y2="513.60" stroke="#111" stroke-width="0.8"/>
<line x1="107.68" y1="511.20" x2="107.68" y2="513.60" stroke="#111" stroke-width="0.8"/>
<line x1="109.92" y1="511.20" x2="109.92" y2="513.60" stroke="#111" stroke-width="0.8"/>
<line x1="111.66" y1="511.20" x2="111.66" y2="513.60" stroke="#111" stroke-width="0.8"/>
<line x1="113.08" y1="511.20" x2="113.08" y2="513.60" stroke="#111" stroke-width="0.8"/>
<line x1="114.28" y1="511.20" x2="114.28" y2="513.60" stroke="#111" stroke-width="0.8"/>
<line x1="115.32" y1="511.20" x2="115.32" y2="513.60" stroke="#111" stroke-width="0.8"/>
<line x1="116.24" y1="511.20" x2="116.24" y2="513.60" stroke="#111" stroke-width="0.8"/>
<line x1="122.46" y1="511.20" x2="122.46" y2="513.60" stroke="#111" stroke-width="0.8"/>
<line x1="125.61" y1="511.20" x2="125.61" y2="513.60" stroke="#111" stroke-width="0.8"/>
<line x1="127.85" y1="511.20" x2="127.85" y2="513.60" stroke="#111" stroke-width="0.8"/>
<line x1="129.59" y1="511.20" x2="129.59" y2="513.60" stroke="#111" stroke-width="0.8"/>
<line x1="131.01" y1="511.20" x2="131.01" y2="513.60" stroke="#111" stroke-width="0.8"/>
<line x1="132.21" y1="511.20" x2="132.21" y2="513.60" stroke="#111" stroke-width="0.8"/>
<line x1="133.25" y1="511.20" x2="133.25" y2="513.60" stroke="#111" stroke-width="0.8"/>
<line x1="134.17" y1="511.20" x2="134.17" y2="513.60" stroke="#111" stroke-width="0.8"/>
<line x1="140.39" y1="511.20" x2="140.39" y2="513.60" stroke="#111" stroke-width="0.8"/>
<line x1="143.54" y1="511.20" x2="143.54" y2="513.60" stroke="#111" stroke-width="0.8"/>
<line x1="145.78" y1="511.20" x2="145.78" y2="513.60" stroke="#111" stroke-width="0.8"/>
<line x1="147.52" y1="511.20" x2="147.52" y2="513.60" stroke="#111" stroke-width="0.8"/>
<line x1="148.94" y1="511.20" x2="148.94" y2="513.60" stroke="#111" stroke-width="0.8"/>
<line x1="150.14" y1="511.20" x2="150.14" y2="513.60" stroke="#111" stroke-width="0.8"/>
<line x1="151.18" y1="511.20" x2="151.18" y2="513.60" stroke="#111" stroke-width="0.8"/>
<line x1="152.10" y1="511.20" x2="152.10" y2="513.60" stroke="#111" stroke-width="0.8"/>
<text x="63.4" y="523.6" font-size="6.5" text-anchor="middle" font-weight="normal" fill="#444">Control</text>
<text x="81.2" y="523.6" font-size="6.5" text-anchor="middle" font-weight="normal" fill="#444">0</text>
<text x="99.13" y="523.6" font-size="6.5" text-anchor="middle" font-weight="normal" fill="#444">1</text>
<text x="117.06" y="523.6" font-size="6.5" text-anchor="middle" font-weight="normal" fill="#444">2</text>
<text x="134.99" y="523.6" font-size="6.5" text-anchor="middle" font-weight="normal" fill="#444">3</text>
<text x="152.92000000000002" y="523.6" font-size="6.5" text-anchor="middle" font-weight="normal" fill="#444">4</text>
<line x1="183.10" y1="436.50" x2="183.10" y2="511.90" stroke="#111" stroke-width="1.5"/>
<line x1="182.40" y1="511.20" x2="273.10" y2="511.20" stroke="#111" stroke-width="1.6"/>
<line x1="179.70" y1="511.20" x2="183.10" y2="511.20" stroke="#111" stroke-width="1.1"/>
<text x="177.7" y="513.4" font-size="6.3" text-anchor="end" font-weight="normal" fill="#444">0</text>
<line x1="179.70" y1="495.58" x2="183.10" y2="495.58" stroke="#111" stroke-width="1.1"/>
<text x="177.7" y="497.78" font-size="6.3" text-anchor="end" font-weight="normal" fill="#444">25</text>
<line x1="179.70" y1="479.96" x2="183.10" y2="479.96" stroke="#111" stroke-width="1.1"/>
<text x="177.7" y="482.15999999999997" font-size="6.3" text-anchor="end" font-weight="normal" fill="#444">50</text>
<line x1="179.70" y1="464.34" x2="183.10" y2="464.34" stroke="#111" stroke-width="1.1"/>
<text x="177.7" y="466.53999999999996" font-size="6.3" text-anchor="end" font-weight="normal" fill="#444">75</text>
<line x1="179.70" y1="448.72" x2="183.10" y2="448.72" stroke="#111" stroke-width="1.1"/>
<text x="177.7" y="450.91999999999996" font-size="6.3" text-anchor="end" font-weight="normal" fill="#444">100</text>
<line x1="183.10" y1="511.20" x2="183.10" y2="515.20" stroke="#111" stroke-width="1"/>
<line x1="200.70" y1="511.20" x2="200.70" y2="515.20" stroke="#111" stroke-width="1"/>
<line x1="218.67" y1="511.20" x2="218.67" y2="515.20" stroke="#111" stroke-width="1"/>
<line x1="236.64" y1="511.20" x2="236.64" y2="515.20" stroke="#111" stroke-width="1"/>
<line x1="254.61" y1="511.20" x2="254.61" y2="515.20" stroke="#111" stroke-width="1"/>
<line x1="272.58" y1="511.20" x2="272.58" y2="515.20" stroke="#111" stroke-width="1"/>
<line x1="188.14" y1="511.20" x2="188.14" y2="513.60" stroke="#111" stroke-width="0.8"/>
<line x1="191.30" y1="511.20" x2="191.30" y2="513.60" stroke="#111" stroke-width="0.8"/>
<line x1="193.55" y1="511.20" x2="193.55" y2="513.60" stroke="#111" stroke-width="0.8"/>
<line x1="195.29" y1="511.20" x2="195.29" y2="513.60" stroke="#111" stroke-width="0.8"/>
<line x1="196.71" y1="511.20" x2="196.71" y2="513.60" stroke="#111" stroke-width="0.8"/>
<line x1="197.92" y1="511.20" x2="197.92" y2="513.60" stroke="#111" stroke-width="0.8"/>
<line x1="198.96" y1="511.20" x2="198.96" y2="513.60" stroke="#111" stroke-width="0.8"/>
<line x1="199.88" y1="511.20" x2="199.88" y2="513.60" stroke="#111" stroke-width="0.8"/>
<line x1="206.11" y1="511.20" x2="206.11" y2="513.60" stroke="#111" stroke-width="0.8"/>
<line x1="209.27" y1="511.20" x2="209.27" y2="513.60" stroke="#111" stroke-width="0.8"/>
<line x1="211.52" y1="511.20" x2="211.52" y2="513.60" stroke="#111" stroke-width="0.8"/>
<line x1="213.26" y1="511.20" x2="213.26" y2="513.60" stroke="#111" stroke-width="0.8"/>
<line x1="214.68" y1="511.20" x2="214.68" y2="513.60" stroke="#111" stroke-width="0.8"/>
<line x1="215.89" y1="511.20" x2="215.89" y2="513.60" stroke="#111" stroke-width="0.8"/>
<line x1="216.93" y1="511.20" x2="216.93" y2="513.60" stroke="#111" stroke-width="0.8"/>
<line x1="217.85" y1="511.20" x2="217.85" y2="513.60" stroke="#111" stroke-width="0.8"/>
<line x1="224.08" y1="511.20" x2="224.08" y2="513.60" stroke="#111" stroke-width="0.8"/>
<line x1="227.24" y1="511.20" x2="227.24" y2="513.60" stroke="#111" stroke-width="0.8"/>
<line x1="229.49" y1="511.20" x2="229.49" y2="513.60" stroke="#111" stroke-width="0.8"/>
<line x1="231.23" y1="511.20" x2="231.23" y2="513.60" stroke="#111" stroke-width="0.8"/>
<line x1="232.65" y1="511.20" x2="232.65" y2="513.60" stroke="#111" stroke-width="0.8"/>
<line x1="233.86" y1="511.20" x2="233.86" y2="513.60" stroke="#111" stroke-width="0.8"/>
<line x1="234.90" y1="511.20" x2="234.90" y2="513.60" stroke="#111" stroke-width="0.8"/>
<line x1="235.82" y1="511.20" x2="235.82" y2="513.60" stroke="#111" stroke-width="0.8"/>
<line x1="242.05" y1="511.20" x2="242.05" y2="513.60" stroke="#111" stroke-width="0.8"/>
<line x1="245.21" y1="511.20" x2="245.21" y2="513.60" stroke="#111" stroke-width="0.8"/>
<line x1="247.46" y1="511.20" x2="247.46" y2="513.60" stroke="#111" stroke-width="0.8"/>
<line x1="249.20" y1="511.20" x2="249.20" y2="513.60" stroke="#111" stroke-width="0.8"/>
<line x1="250.62" y1="511.20" x2="250.62" y2="513.60" stroke="#111" stroke-width="0.8"/>
<line x1="251.83" y1="511.20" x2="251.83" y2="513.60" stroke="#111" stroke-width="0.8"/>
<line x1="252.87" y1="511.20" x2="252.87" y2="513.60" stroke="#111" stroke-width="0.8"/>
<line x1="253.79" y1="511.20" x2="253.79" y2="513.60" stroke="#111" stroke-width="0.8"/>
<line x1="260.02" y1="511.20" x2="260.02" y2="513.60" stroke="#111" stroke-width="0.8"/>
<line x1="263.18" y1="511.20" x2="263.18" y2="513.60" stroke="#111" stroke-width="0.8"/>
<line x1="265.43" y1="511.20" x2="265.43" y2="513.60" stroke="#111" stroke-width="0.8"/>
<line x1="267.17" y1="511.20" x2="267.17" y2="513.60" stroke="#111" stroke-width="0.8"/>
<line x1="268.59" y1="511.20" x2="268.59" y2="513.60" stroke="#111" stroke-width="0.8"/>
<line x1="269.80" y1="511.20" x2="269.80" y2="513.60" stroke="#111" stroke-width="0.8"/>
<line x1="270.84" y1="511.20" x2="270.84" y2="513.60" stroke="#111" stroke-width="0.8"/>
<line x1="271.76" y1="511.20" x2="271.76" y2="513.60" stroke="#111" stroke-width="0.8"/>
<text x="183.1" y="523.6" font-size="6.5" text-anchor="middle" font-weight="normal" fill="#444">Control</text>
<text x="200.7" y="523.6" font-size="6.5" text-anchor="middle" font-weight="normal" fill="#444">0</text>
<text x="218.67" y="523.6" font-size="6.5" text-anchor="middle" font-weight="normal" fill="#444">1</text>
<text x="236.64" y="523.6" font-size="6.5" text-anchor="middle" font-weight="normal" fill="#444">2</text>
<text x="254.60999999999999" y="523.6" font-size="6.5" text-anchor="middle" font-weight="normal" fill="#444">3</text>
<text x="272.58" y="523.6" font-size="6.5" text-anchor="middle" font-weight="normal" fill="#444">4</text>
<path d="M63.40,448.72 L64.14,448.72 L64.88,448.72 L65.62,448.72 L66.37,448.72 L67.11,448.72 L67.85,448.72 L68.59,448.72 L69.33,448.72 L70.08,448.72 L70.82,448.72 L71.56,448.72 L72.30,448.72 L73.04,448.72 L73.78,448.72 L74.53,448.72 L75.27,448.72 L76.01,448.72 L76.75,448.72 L77.49,448.72 L78.23,448.72 L78.97,448.72 L79.72,448.72 L80.46,448.72 L81.20,448.73 L81.95,448.73 L82.69,448.74 L83.44,448.75 L84.19,448.77 L84.94,448.80 L85.68,448.84 L86.43,448.92 L87.18,449.04 L87.92,449.23 L88.67,449.53 L89.42,450.01 L90.17,450.74 L90.91,451.85 L91.66,453.44 L92.41,455.62 L93.15,458.37 L93.90,461.54 L94.65,464.82 L95.39,467.84 L96.14,470.35 L96.89,472.26 L97.64,473.62 L98.38,474.55 L99.13,475.16 L99.88,475.55 L100.62,475.80 L101.37,475.95 L102.12,476.05 L102.87,476.11 L103.61,476.15 L104.36,476.17 L105.11,476.19 L105.85,476.20 L106.60,476.20 L107.35,476.21 L108.09,476.21 L108.84,476.21 L109.59,476.21 L110.34,476.21 L111.08,476.21 L111.83,476.21 L112.58,476.21 L113.32,476.21 L114.07,476.21 L114.82,476.21 L115.57,476.21 L116.31,476.21 L117.06,476.21 L117.81,476.21 L118.55,476.21 L119.30,476.21 L120.05,476.21 L120.80,476.21 L121.54,476.21 L122.29,476.21 L123.04,476.21 L123.78,476.21 L124.53,476.21 L125.28,476.21 L126.03,476.21 L126.77,476.21 L127.52,476.21 L128.27,476.21 L129.01,476.21 L129.76,476.21 L130.51,476.21 L131.25,476.21 L132.00,476.21 L132.75,476.21 L133.50,476.21 L134.24,476.21 L134.99,476.21 L135.74,476.21 L136.48,476.21 L137.23,476.21 L137.98,476.21 L138.73,476.21 L139.47,476.21 L140.22,476.21 L140.97,476.21 L141.71,476.21 L142.46,476.21 L143.21,476.21 L143.95,476.21 L144.70,476.21 L145.45,476.21 L146.20,476.21 L146.94,476.21 L147.69,476.21 L148.44,476.21 L149.18,476.21 L149.93,476.21 L150.68,476.21 L151.43,476.21 L152.17,476.21 L152.92,476.21" fill="none" stroke="#2d4f8c" stroke-width="1.8" stroke-linejoin="round"/>
<path d="M63.40,449.54 L64.14,449.56 L64.88,449.58 L65.62,449.61 L66.37,449.64 L67.11,449.67 L67.85,449.70 L68.59,449.74 L69.33,449.79 L70.08,449.83 L70.82,449.89 L71.56,449.95 L72.30,450.01 L73.04,450.08 L73.78,450.16 L74.53,450.25 L75.27,450.35 L76.01,450.45 L76.75,450.57 L77.49,450.70 L78.23,450.84 L78.97,450.99 L79.72,451.16 L80.46,451.35 L81.20,451.55 L81.95,451.77 L82.69,452.01 L83.44,452.27 L84.19,452.55 L84.94,452.85 L85.68,453.18 L86.43,453.53 L87.18,453.91 L87.92,454.31 L88.67,454.74 L89.42,455.19 L90.17,455.67 L90.91,456.17 L91.66,456.70 L92.41,457.24 L93.15,457.81 L93.90,458.39 L94.65,458.99 L95.39,459.60 L96.14,460.22 L96.89,460.84 L97.64,461.47 L98.38,462.09 L99.13,462.71 L99.88,463.32 L100.62,463.92 L101.37,464.51 L102.12,465.08 L102.87,465.63 L103.61,466.16 L104.36,466.66 L105.11,467.15 L105.85,467.60 L106.60,468.04 L107.35,468.44 L108.09,468.83 L108.84,469.18 L109.59,469.51 L110.34,469.82 L111.08,470.11 L111.83,470.37 L112.58,470.62 L113.32,470.84 L114.07,471.05 L114.82,471.23 L115.57,471.41 L116.31,471.56 L117.06,471.71 L117.81,471.84 L118.55,471.96 L119.30,472.07 L120.05,472.16 L120.80,472.25 L121.54,472.33 L122.29,472.41 L123.04,472.47 L123.78,472.53 L124.53,472.59 L125.28,472.64 L126.03,472.68 L126.77,472.72 L127.52,472.76 L128.27,472.79 L129.01,472.82 L129.76,472.85 L130.51,472.87 L131.25,472.89 L132.00,472.91 L132.75,472.93 L133.50,472.94 L134.24,472.96 L134.99,472.97 L135.74,472.98 L136.48,472.99 L137.23,473.00 L137.98,473.01 L138.73,473.02 L139.47,473.03 L140.22,473.03 L140.97,473.04 L141.71,473.04 L142.46,473.05 L143.21,473.05 L143.95,473.05 L144.70,473.06 L145.45,473.06 L146.20,473.06 L146.94,473.07 L147.69,473.07 L148.44,473.07 L149.18,473.07 L149.93,473.07 L150.68,473.07 L151.43,473.08 L152.17,473.08 L152.92,473.08" fill="none" stroke="#2d4f8c" stroke-width="1.8" stroke-linejoin="round"/>
<path d="M63.40,450.10 L64.14,450.16 L64.88,450.22 L65.62,450.28 L66.37,450.35 L67.11,450.42 L67.85,450.50 L68.59,450.58 L69.33,450.67 L70.08,450.77 L70.82,450.87 L71.56,450.98 L72.30,451.09 L73.04,451.22 L73.78,451.35 L74.53,451.49 L75.27,451.64 L76.01,451.80 L76.75,451.97 L77.49,452.15 L78.23,452.34 L78.97,452.54 L79.72,452.75 L80.46,452.98 L81.20,453.22 L81.95,453.48 L82.69,453.75 L83.44,454.03 L84.19,454.33 L84.94,454.64 L85.68,454.98 L86.43,455.32 L87.18,455.69 L87.92,456.07 L88.67,456.47 L89.42,456.88 L90.17,457.32 L90.91,457.77 L91.66,458.23 L92.41,458.72 L93.15,459.22 L93.90,459.73 L94.65,460.27 L95.39,460.81 L96.14,461.37 L96.89,461.94 L97.64,462.52 L98.38,463.12 L99.13,463.72 L99.88,464.33 L100.62,464.94 L101.37,465.56 L102.12,466.18 L102.87,466.81 L103.61,467.43 L104.36,468.05 L105.11,468.67 L105.85,469.28 L106.60,469.89 L107.35,470.49 L108.09,471.08 L108.84,471.65 L109.59,472.22 L110.34,472.77 L111.08,473.31 L111.83,473.84 L112.58,474.35 L113.32,474.84 L114.07,475.32 L114.82,475.78 L115.57,476.22 L116.31,476.65 L117.06,477.06 L117.81,477.45 L118.55,477.83 L119.30,478.18 L120.05,478.52 L120.80,478.85 L121.54,479.16 L122.29,479.45 L123.04,479.73 L123.78,479.99 L124.53,480.24 L125.28,480.48 L126.03,480.70 L126.77,480.91 L127.52,481.11 L128.27,481.29 L129.01,481.47 L129.76,481.63 L130.51,481.79 L131.25,481.94 L132.00,482.07 L132.75,482.20 L133.50,482.32 L134.24,482.43 L134.99,482.54 L135.74,482.64 L136.48,482.73 L137.23,482.82 L137.98,482.90 L138.73,482.97 L139.47,483.04 L140.22,483.11 L140.97,483.17 L141.71,483.23 L142.46,483.28 L143.21,483.33 L143.95,483.38 L144.70,483.42 L145.45,483.46 L146.20,483.50 L146.94,483.54 L147.69,483.57 L148.44,483.60 L149.18,483.63 L149.93,483.66 L150.68,483.68 L151.43,483.71 L152.17,483.73 L152.92,483.75" fill="none" stroke="#2d4f8c" stroke-width="1.8" stroke-linejoin="round"/>
<path d="M63.40,449.36 L64.14,449.36 L64.88,449.37 L65.62,449.37 L66.37,449.38 L67.11,449.38 L67.85,449.39 L68.59,449.39 L69.33,449.40 L70.08,449.41 L70.82,449.42 L71.56,449.43 L72.30,449.45 L73.04,449.47 L73.78,449.49 L74.53,449.51 L75.27,449.54 L76.01,449.57 L76.75,449.60 L77.49,449.65 L78.23,449.70 L78.97,449.75 L79.72,449.82 L80.46,449.90 L81.20,449.99 L81.95,450.09 L82.69,450.21 L83.44,450.35 L84.19,450.51 L84.94,450.69 L85.68,450.90 L86.43,451.14 L87.18,451.42 L87.92,451.73 L88.67,452.08 L89.42,452.49 L90.17,452.93 L90.91,453.44 L91.66,454.00 L92.41,454.61 L93.15,455.29 L93.90,456.02 L94.65,456.82 L95.39,457.66 L96.14,458.56 L96.89,459.50 L97.64,460.47 L98.38,461.46 L99.13,462.47 L99.88,463.47 L100.62,464.46 L101.37,465.43 L102.12,466.37 L102.87,467.27 L103.61,468.11 L104.36,468.91 L105.11,469.64 L105.85,470.32 L106.60,470.93 L107.35,471.49 L108.09,472.00 L108.84,472.45 L109.59,472.85 L110.34,473.20 L111.08,473.51 L111.83,473.79 L112.58,474.03 L113.32,474.24 L114.07,474.42 L114.82,474.58 L115.57,474.72 L116.31,474.84 L117.06,474.94 L117.81,475.03 L118.55,475.11 L119.30,475.18 L120.05,475.23 L120.80,475.28 L121.54,475.33 L122.29,475.36 L123.04,475.39 L123.78,475.42 L124.53,475.45 L125.28,475.47 L126.03,475.48 L126.77,475.50 L127.52,475.51 L128.27,475.52 L129.01,475.53 L129.76,475.54 L130.51,475.54 L131.25,475.55 L132.00,475.56 L132.75,475.56 L133.50,475.56 L134.24,475.57 L134.99,475.57 L135.74,475.57 L136.48,475.57 L137.23,475.58 L137.98,475.58 L138.73,475.58 L139.47,475.58 L140.22,475.58 L140.97,475.58 L141.71,475.58 L142.46,475.58 L143.21,475.58 L143.95,475.58 L144.70,475.58 L145.45,475.58 L146.20,475.58 L146.94,475.58 L147.69,475.59 L148.44,475.59 L149.18,475.59 L149.93,475.59 L150.68,475.59 L151.43,475.59 L152.17,475.59 L152.92,475.59" fill="none" stroke="#2d4f8c" stroke-width="1.8" stroke-linejoin="round"/>
<path d="M63.40,449.34 L64.14,449.34 L64.88,449.34 L65.62,449.34 L66.37,449.34 L67.11,449.34 L67.85,449.34 L68.59,449.34 L69.33,449.34 L70.08,449.34 L70.82,449.35 L71.56,449.35 L72.30,449.35 L73.04,449.35 L73.78,449.35 L74.53,449.35 L75.27,449.35 L76.01,449.35 L76.75,449.35 L77.49,449.35 L78.23,449.36 L78.97,449.36 L79.72,449.37 L80.46,449.38 L81.20,449.39 L81.95,449.42 L82.69,449.45 L83.44,449.50 L84.19,449.57 L84.94,449.67 L85.68,449.82 L86.43,450.04 L87.18,450.36 L87.92,450.82 L88.67,451.47 L89.42,452.38 L90.17,453.64 L90.91,455.32 L91.66,457.50 L92.41,460.20 L93.15,463.45 L93.90,467.84 L94.65,478.48 L95.39,497.48 L96.14,503.62 L96.89,504.27 L97.64,504.32 L98.38,504.33 L99.13,504.33 L99.88,504.33 L100.62,504.33 L101.37,504.33 L102.12,504.33 L102.87,504.33 L103.61,504.33 L104.36,504.33 L105.11,504.33 L105.85,504.33 L106.60,504.33 L107.35,504.33 L108.09,504.33 L108.84,504.33 L109.59,504.33 L110.34,504.33 L111.08,504.33 L111.83,504.33 L112.58,504.33 L113.32,504.33 L114.07,504.33 L114.82,504.33 L115.57,504.33 L116.31,504.33 L117.06,504.33 L117.81,504.33 L118.55,504.33 L119.30,504.33 L120.05,504.33 L120.80,504.33 L121.54,504.33 L122.29,504.33 L123.04,504.33 L123.78,504.33 L124.53,504.33 L125.28,504.33 L126.03,504.33 L126.77,504.33 L127.52,504.33 L128.27,504.33 L129.01,504.33 L129.76,504.33 L130.51,504.33 L131.25,504.33 L132.00,504.33 L132.75,504.33 L133.50,504.33 L134.24,504.33 L134.99,504.33 L135.74,504.33 L136.48,504.33 L137.23,504.33 L137.98,504.33 L138.73,504.33 L139.47,504.33 L140.22,504.33 L140.97,504.33 L141.71,504.33 L142.46,504.33 L143.21,504.33 L143.95,504.33 L144.70,504.33 L145.45,504.33 L146.20,504.33 L146.94,504.33 L147.69,504.33 L148.44,504.33 L149.18,504.33 L149.93,504.33 L150.68,504.33 L151.43,504.33 L152.17,504.33 L152.92,504.33" fill="none" stroke="#b5113d" stroke-width="1.8" stroke-linejoin="round"/>
<path d="M63.40,450.03 L64.14,450.04 L64.88,450.05 L65.62,450.07 L66.37,450.09 L67.11,450.11 L67.85,450.13 L68.59,450.16 L69.33,450.20 L70.08,450.24 L70.82,450.28 L71.56,450.34 L72.30,450.40 L73.04,450.48 L73.78,450.57 L74.53,450.67 L75.27,450.79 L76.01,450.94 L76.75,451.10 L77.49,451.30 L78.23,451.52 L78.97,451.79 L79.72,452.10 L80.46,452.45 L81.20,452.87 L81.95,453.35 L82.69,453.89 L83.44,454.52 L84.19,455.24 L84.94,456.06 L85.68,456.98 L86.43,458.01 L87.18,459.16 L87.92,460.43 L88.67,461.83 L89.42,463.34 L90.17,464.96 L90.91,466.69 L91.66,468.50 L92.41,470.39 L93.15,472.31 L93.90,474.26 L94.65,476.20 L95.39,478.11 L96.14,479.97 L96.89,481.75 L97.64,483.44 L98.38,485.02 L99.13,486.48 L99.88,487.83 L100.62,489.05 L101.37,490.15 L102.12,491.14 L102.87,492.02 L103.61,492.79 L104.36,493.47 L105.11,494.07 L105.85,494.59 L106.60,495.04 L107.35,495.43 L108.09,495.77 L108.84,496.06 L109.59,496.31 L110.34,496.52 L111.08,496.70 L111.83,496.86 L112.58,497.00 L113.32,497.11 L114.07,497.21 L114.82,497.29 L115.57,497.36 L116.31,497.42 L117.06,497.47 L117.81,497.52 L118.55,497.56 L119.30,497.59 L120.05,497.61 L120.80,497.64 L121.54,497.66 L122.29,497.67 L123.04,497.69 L123.78,497.70 L124.53,497.71 L125.28,497.72 L126.03,497.73 L126.77,497.73 L127.52,497.74 L128.27,497.74 L129.01,497.75 L129.76,497.75 L130.51,497.75 L131.25,497.75 L132.00,497.76 L132.75,497.76 L133.50,497.76 L134.24,497.76 L134.99,497.76 L135.74,497.76 L136.48,497.76 L137.23,497.76 L137.98,497.76 L138.73,497.76 L139.47,497.76 L140.22,497.76 L140.97,497.77 L141.71,497.77 L142.46,497.77 L143.21,497.77 L143.95,497.77 L144.70,497.77 L145.45,497.77 L146.20,497.77 L146.94,497.77 L147.69,497.77 L148.44,497.77 L149.18,497.77 L149.93,497.77 L150.68,497.77 L151.43,497.77 L152.17,497.77 L152.92,497.77" fill="none" stroke="#b5113d" stroke-width="1.8" stroke-linejoin="round"/>
<path d="M63.40,450.03 L64.14,450.04 L64.88,450.06 L65.62,450.07 L66.37,450.09 L67.11,450.10 L67.85,450.12 L68.59,450.15 L69.33,450.18 L70.08,450.21 L70.82,450.24 L71.56,450.29 L72.30,450.33 L73.04,450.39 L73.78,450.46 L74.53,450.53 L75.27,450.62 L76.01,450.71 L76.75,450.83 L77.49,450.96 L78.23,451.11 L78.97,451.28 L79.72,451.48 L80.46,451.70 L81.20,451.96 L81.95,452.26 L82.69,452.59 L83.44,452.98 L84.19,453.41 L84.94,453.91 L85.68,454.47 L86.43,455.10 L87.18,455.81 L87.92,456.61 L88.67,457.49 L89.42,458.48 L90.17,459.56 L90.91,460.76 L91.66,462.06 L92.41,463.47 L93.15,464.99 L93.90,466.61 L94.65,468.33 L95.39,470.13 L96.14,472.00 L96.89,473.92 L97.64,475.88 L98.38,477.86 L99.13,479.83 L99.88,481.78 L100.62,483.68 L101.37,485.53 L102.12,487.29 L102.87,488.97 L103.61,490.55 L104.36,492.03 L105.11,493.40 L105.85,494.66 L106.60,495.81 L107.35,496.85 L108.09,497.80 L108.84,498.65 L109.59,499.41 L110.34,500.08 L111.08,500.68 L111.83,501.22 L112.58,501.69 L113.32,502.10 L114.07,502.47 L114.82,502.79 L115.57,503.07 L116.31,503.31 L117.06,503.53 L117.81,503.71 L118.55,503.88 L119.30,504.02 L120.05,504.14 L120.80,504.25 L121.54,504.34 L122.29,504.42 L123.04,504.49 L123.78,504.55 L124.53,504.61 L125.28,504.65 L126.03,504.69 L126.77,504.73 L127.52,504.76 L128.27,504.78 L129.01,504.81 L129.76,504.83 L130.51,504.84 L131.25,504.86 L132.00,504.87 L132.75,504.88 L133.50,504.89 L134.24,504.90 L134.99,504.91 L135.74,504.91 L136.48,504.92 L137.23,504.92 L137.98,504.93 L138.73,504.93 L139.47,504.93 L140.22,504.94 L140.97,504.94 L141.71,504.94 L142.46,504.94 L143.21,504.94 L143.95,504.94 L144.70,504.94 L145.45,504.95 L146.20,504.95 L146.94,504.95 L147.69,504.95 L148.44,504.95 L149.18,504.95 L149.93,504.95 L150.68,504.95 L151.43,504.95 L152.17,504.95 L152.92,504.95" fill="none" stroke="#b5113d" stroke-width="1.8" stroke-linejoin="round"/>
<path d="M63.40,450.14 L64.14,450.16 L64.88,450.18 L65.62,450.21 L66.37,450.24 L67.11,450.27 L67.85,450.31 L68.59,450.35 L69.33,450.39 L70.08,450.44 L70.82,450.50 L71.56,450.57 L72.30,450.64 L73.04,450.72 L73.78,450.81 L74.53,450.91 L75.27,451.02 L76.01,451.15 L76.75,451.29 L77.49,451.44 L78.23,451.62 L78.97,451.81 L79.72,452.03 L80.46,452.27 L81.20,452.54 L81.95,452.84 L82.69,453.17 L83.44,453.53 L84.19,453.93 L84.94,454.38 L85.68,454.87 L86.43,455.41 L87.18,456.00 L87.92,456.65 L88.67,457.36 L89.42,458.13 L90.17,458.97 L90.91,459.87 L91.66,460.85 L92.41,461.89 L93.15,463.01 L93.90,464.20 L94.65,465.46 L95.39,466.78 L96.14,468.17 L96.89,469.62 L97.64,471.11 L98.38,472.65 L99.13,474.23 L99.88,475.82 L100.62,477.44 L101.37,479.06 L102.12,480.67 L102.87,482.26 L103.61,483.83 L104.36,485.36 L105.11,486.85 L105.85,488.28 L106.60,489.66 L107.35,490.97 L108.09,492.21 L108.84,493.39 L109.59,494.49 L110.34,495.52 L111.08,496.48 L111.83,497.37 L112.58,498.20 L113.32,498.96 L114.07,499.65 L114.82,500.29 L115.57,500.87 L116.31,501.40 L117.06,501.88 L117.81,502.32 L118.55,502.72 L119.30,503.07 L120.05,503.40 L120.80,503.69 L121.54,503.95 L122.29,504.19 L123.04,504.40 L123.78,504.59 L124.53,504.76 L125.28,504.91 L126.03,505.05 L126.77,505.17 L127.52,505.28 L128.27,505.38 L129.01,505.47 L129.76,505.55 L130.51,505.62 L131.25,505.68 L132.00,505.74 L132.75,505.79 L133.50,505.83 L134.24,505.87 L134.99,505.91 L135.74,505.94 L136.48,505.97 L137.23,505.99 L137.98,506.02 L138.73,506.04 L139.47,506.05 L140.22,506.07 L140.97,506.08 L141.71,506.10 L142.46,506.11 L143.21,506.12 L143.95,506.13 L144.70,506.14 L145.45,506.14 L146.20,506.15 L146.94,506.15 L147.69,506.16 L148.44,506.16 L149.18,506.17 L149.93,506.17 L150.68,506.18 L151.43,506.18 L152.17,506.18 L152.92,506.18" fill="none" stroke="#b5113d" stroke-width="1.8" stroke-linejoin="round"/>
<path d="M183.10,448.72 L183.83,448.72 L184.57,448.72 L185.30,448.72 L186.03,448.72 L186.77,448.72 L187.50,448.72 L188.23,448.72 L188.97,448.72 L189.70,448.72 L190.43,448.72 L191.17,448.72 L191.90,448.72 L192.63,448.72 L193.37,448.72 L194.10,448.72 L194.83,448.72 L195.57,448.72 L196.30,448.72 L197.03,448.72 L197.77,448.72 L198.50,448.72 L199.23,448.72 L199.97,448.72 L200.70,448.72 L201.45,448.72 L202.20,448.72 L202.95,448.72 L203.69,448.73 L204.44,448.73 L205.19,448.74 L205.94,448.75 L206.69,448.77 L207.44,448.80 L208.19,448.84 L208.94,448.92 L209.69,449.04 L210.43,449.23 L211.18,449.52 L211.93,449.98 L212.68,450.68 L213.43,451.69 L214.18,453.07 L214.93,454.85 L215.67,456.91 L216.42,459.07 L217.17,461.10 L217.92,462.80 L218.67,464.10 L219.42,465.04 L220.17,465.68 L220.92,466.11 L221.66,466.38 L222.41,466.55 L223.16,466.66 L223.91,466.73 L224.66,466.77 L225.41,466.80 L226.16,466.81 L226.91,466.82 L227.65,466.83 L228.40,466.83 L229.15,466.84 L229.90,466.84 L230.65,466.84 L231.40,466.84 L232.15,466.84 L232.90,466.84 L233.64,466.84 L234.39,466.84 L235.14,466.84 L235.89,466.84 L236.64,466.84 L237.39,466.84 L238.14,466.84 L238.89,466.84 L239.63,466.84 L240.38,466.84 L241.13,466.84 L241.88,466.84 L242.63,466.84 L243.38,466.84 L244.13,466.84 L244.88,466.84 L245.62,466.84 L246.37,466.84 L247.12,466.84 L247.87,466.84 L248.62,466.84 L249.37,466.84 L250.12,466.84 L250.87,466.84 L251.61,466.84 L252.36,466.84 L253.11,466.84 L253.86,466.84 L254.61,466.84 L255.36,466.84 L256.11,466.84 L256.86,466.84 L257.61,466.84 L258.35,466.84 L259.10,466.84 L259.85,466.84 L260.60,466.84 L261.35,466.84 L262.10,466.84 L262.85,466.84 L263.59,466.84 L264.34,466.84 L265.09,466.84 L265.84,466.84 L266.59,466.84 L267.34,466.84 L268.09,466.84 L268.84,466.84 L269.58,466.84 L270.33,466.84 L271.08,466.84 L271.83,466.84 L272.58,466.84" fill="none" stroke="#2d4f8c" stroke-width="1.8" stroke-linejoin="round"/>
<path d="M183.10,448.72 L183.83,448.72 L184.57,448.72 L185.30,448.72 L186.03,448.72 L186.77,448.72 L187.50,448.72 L188.23,448.72 L188.97,448.72 L189.70,448.72 L190.43,448.72 L191.17,448.72 L191.90,448.72 L192.63,448.72 L193.37,448.72 L194.10,448.72 L194.83,448.72 L195.57,448.72 L196.30,448.72 L197.03,448.72 L197.77,448.72 L198.50,448.72 L199.23,448.72 L199.97,448.72 L200.70,448.73 L201.45,448.73 L202.20,448.73 L202.95,448.74 L203.69,448.75 L204.44,448.76 L205.19,448.78 L205.94,448.80 L206.69,448.84 L207.44,448.89 L208.19,448.98 L208.94,449.09 L209.69,449.26 L210.43,449.51 L211.18,449.86 L211.93,450.35 L212.68,451.04 L213.43,451.96 L214.18,453.17 L214.93,454.69 L215.67,456.51 L216.42,458.54 L217.17,460.66 L217.92,462.72 L218.67,464.58 L219.42,466.17 L220.17,467.44 L220.92,468.42 L221.66,469.15 L222.41,469.68 L223.16,470.05 L223.91,470.31 L224.66,470.50 L225.41,470.62 L226.16,470.71 L226.91,470.77 L227.65,470.81 L228.40,470.84 L229.15,470.86 L229.90,470.87 L230.65,470.88 L231.40,470.89 L232.15,470.89 L232.90,470.89 L233.64,470.90 L234.39,470.90 L235.14,470.90 L235.89,470.90 L236.64,470.90 L237.39,470.90 L238.14,470.90 L238.89,470.90 L239.63,470.90 L240.38,470.90 L241.13,470.90 L241.88,470.90 L242.63,470.90 L243.38,470.90 L244.13,470.90 L244.88,470.90 L245.62,470.90 L246.37,470.90 L247.12,470.90 L247.87,470.90 L248.62,470.90 L249.37,470.90 L250.12,470.90 L250.87,470.90 L251.61,470.90 L252.36,470.90 L253.11,470.90 L253.86,470.90 L254.61,470.90 L255.36,470.90 L256.11,470.90 L256.86,470.90 L257.61,470.90 L258.35,470.90 L259.10,470.90 L259.85,470.90 L260.60,470.90 L261.35,470.90 L262.10,470.90 L262.85,470.90 L263.59,470.90 L264.34,470.90 L265.09,470.90 L265.84,470.90 L266.59,470.90 L267.34,470.90 L268.09,470.90 L268.84,470.90 L269.58,470.90 L270.33,470.90 L271.08,470.90 L271.83,470.90 L272.58,470.90" fill="none" stroke="#2d4f8c" stroke-width="1.8" stroke-linejoin="round"/>
<path d="M183.10,448.72 L183.83,448.72 L184.57,448.72 L185.30,448.72 L186.03,448.72 L186.77,448.72 L187.50,448.72 L188.23,448.72 L188.97,448.72 L189.70,448.72 L190.43,448.72 L191.17,448.72 L191.90,448.72 L192.63,448.72 L193.37,448.72 L194.10,448.72 L194.83,448.72 L195.57,448.72 L196.30,448.72 L197.03,448.72 L197.77,448.72 L198.50,448.72 L199.23,448.73 L199.97,448.73 L200.70,448.73 L201.45,448.74 L202.20,448.75 L202.95,448.76 L203.69,448.77 L204.44,448.79 L205.19,448.82 L205.94,448.86 L206.69,448.91 L207.44,448.99 L208.19,449.09 L208.94,449.24 L209.69,449.44 L210.43,449.72 L211.18,450.09 L211.93,450.60 L212.68,451.29 L213.43,452.18 L214.18,453.33 L214.93,454.77 L215.67,456.51 L216.42,458.52 L217.17,460.74 L217.92,463.06 L218.67,465.35 L219.42,467.49 L220.17,469.40 L220.92,471.02 L221.66,472.34 L222.41,473.39 L223.16,474.19 L223.91,474.80 L224.66,475.25 L225.41,475.59 L226.16,475.83 L226.91,476.01 L227.65,476.14 L228.40,476.23 L229.15,476.29 L229.90,476.34 L230.65,476.38 L231.40,476.40 L232.15,476.42 L232.90,476.43 L233.64,476.44 L234.39,476.45 L235.14,476.45 L235.89,476.45 L236.64,476.46 L237.39,476.46 L238.14,476.46 L238.89,476.46 L239.63,476.46 L240.38,476.46 L241.13,476.46 L241.88,476.46 L242.63,476.46 L243.38,476.46 L244.13,476.46 L244.88,476.46 L245.62,476.46 L246.37,476.46 L247.12,476.46 L247.87,476.46 L248.62,476.46 L249.37,476.46 L250.12,476.46 L250.87,476.46 L251.61,476.46 L252.36,476.46 L253.11,476.46 L253.86,476.46 L254.61,476.46 L255.36,476.46 L256.11,476.46 L256.86,476.46 L257.61,476.46 L258.35,476.46 L259.10,476.46 L259.85,476.46 L260.60,476.46 L261.35,476.46 L262.10,476.46 L262.85,476.46 L263.59,476.46 L264.34,476.46 L265.09,476.46 L265.84,476.46 L266.59,476.46 L267.34,476.46 L268.09,476.46 L268.84,476.46 L269.58,476.46 L270.33,476.46 L271.08,476.46 L271.83,476.46 L272.58,476.46" fill="none" stroke="#2d4f8c" stroke-width="1.8" stroke-linejoin="round"/>
<path d="M183.10,448.72 L183.83,448.72 L184.57,448.73 L185.30,448.73 L186.03,448.73 L186.77,448.74 L187.50,448.74 L188.23,448.75 L188.97,448.77 L189.70,448.79 L190.43,448.81 L191.17,448.85 L191.90,448.90 L192.63,448.97 L193.37,449.06 L194.10,449.20 L194.83,449.38 L195.57,449.64 L196.30,449.98 L197.03,450.45 L197.77,451.07 L198.50,451.87 L199.23,452.90 L199.97,454.16 L200.70,455.66 L201.45,457.37 L202.20,459.21 L202.95,461.10 L203.69,462.92 L204.44,464.59 L205.19,466.04 L205.94,467.26 L206.69,468.24 L207.44,469.00 L208.19,469.59 L208.94,470.03 L209.69,470.35 L210.43,470.59 L211.18,470.76 L211.93,470.89 L212.68,470.98 L213.43,471.05 L214.18,471.09 L214.93,471.13 L215.67,471.15 L216.42,471.17 L217.17,471.18 L217.92,471.19 L218.67,471.20 L219.42,471.20 L220.17,471.20 L220.92,471.21 L221.66,471.21 L222.41,471.21 L223.16,471.21 L223.91,471.21 L224.66,471.21 L225.41,471.21 L226.16,471.21 L226.91,471.21 L227.65,471.21 L228.40,471.21 L229.15,471.21 L229.90,471.21 L230.65,471.21 L231.40,471.21 L232.15,471.21 L232.90,471.21 L233.64,471.21 L234.39,471.21 L235.14,471.21 L235.89,471.21 L236.64,471.21 L237.39,471.21 L238.14,471.21 L238.89,471.21 L239.63,471.21 L240.38,471.21 L241.13,471.21 L241.88,471.21 L242.63,471.21 L243.38,471.21 L244.13,471.21 L244.88,471.21 L245.62,471.21 L246.37,471.21 L247.12,471.21 L247.87,471.21 L248.62,471.21 L249.37,471.21 L250.12,471.21 L250.87,471.21 L251.61,471.21 L252.36,471.21 L253.11,471.21 L253.86,471.21 L254.61,471.21 L255.36,471.21 L256.11,471.21 L256.86,471.21 L257.61,471.21 L258.35,471.21 L259.10,471.21 L259.85,471.21 L260.60,471.21 L261.35,471.21 L262.10,471.21 L262.85,471.21 L263.59,471.21 L264.34,471.21 L265.09,471.21 L265.84,471.21 L266.59,471.21 L267.34,471.21 L268.09,471.21 L268.84,471.21 L269.58,471.21 L270.33,471.21 L271.08,471.21 L271.83,471.21 L272.58,471.21" fill="none" stroke="#2d4f8c" stroke-width="1.8" stroke-linejoin="round"/>
<path d="M183.10,448.72 L183.83,448.72 L184.57,448.72 L185.30,448.72 L186.03,448.72 L186.77,448.72 L187.50,448.72 L188.23,448.72 L188.97,448.72 L189.70,448.72 L190.43,448.72 L191.17,448.72 L191.90,448.72 L192.63,448.72 L193.37,448.72 L194.10,448.72 L194.83,448.72 L195.57,448.72 L196.30,448.72 L197.03,448.72 L197.77,448.72 L198.50,448.72 L199.23,448.72 L199.97,448.72 L200.70,448.72 L201.45,448.72 L202.20,448.72 L202.95,448.72 L203.69,448.72 L204.44,448.72 L205.19,448.72 L205.94,448.72 L206.69,448.80 L207.44,465.41 L208.19,498.39 L208.94,498.70 L209.69,498.70 L210.43,498.70 L211.18,498.70 L211.93,498.70 L212.68,498.70 L213.43,498.70 L214.18,498.70 L214.93,498.70 L215.67,498.70 L216.42,498.70 L217.17,498.70 L217.92,498.70 L218.67,498.70 L219.42,498.70 L220.17,498.70 L220.92,498.70 L221.66,498.70 L222.41,498.70 L223.16,498.70 L223.91,498.70 L224.66,498.70 L225.41,498.70 L226.16,498.70 L226.91,498.70 L227.65,498.70 L228.40,498.70 L229.15,498.70 L229.90,498.70 L230.65,498.70 L231.40,498.70 L232.15,498.70 L232.90,498.70 L233.64,498.70 L234.39,498.70 L235.14,498.70 L235.89,498.70 L236.64,498.70 L237.39,498.70 L238.14,498.70 L238.89,498.70 L239.63,498.70 L240.38,498.70 L241.13,498.70 L241.88,498.70 L242.63,498.70 L243.38,498.70 L244.13,498.70 L244.88,498.70 L245.62,498.70 L246.37,498.70 L247.12,498.70 L247.87,498.70 L248.62,498.70 L249.37,498.70 L250.12,498.70 L250.87,498.70 L251.61,498.70 L252.36,498.70 L253.11,498.70 L253.86,498.70 L254.61,498.70 L255.36,498.70 L256.11,498.70 L256.86,498.70 L257.61,498.70 L258.35,498.70 L259.10,498.70 L259.85,498.70 L260.60,498.70 L261.35,498.70 L262.10,498.70 L262.85,498.70 L263.59,498.70 L264.34,498.70 L265.09,498.70 L265.84,498.70 L266.59,498.70 L267.34,498.70 L268.09,498.70 L268.84,498.70 L269.58,498.70 L270.33,498.70 L271.08,498.70 L271.83,498.70 L272.58,498.70" fill="none" stroke="#b5113d" stroke-width="1.8" stroke-linejoin="round"/>
<path d="M183.10,448.72 L183.83,448.72 L184.57,448.72 L185.30,448.72 L186.03,448.72 L186.77,448.72 L187.50,448.72 L188.23,448.72 L188.97,448.72 L189.70,448.72 L190.43,448.72 L191.17,448.72 L191.90,448.72 L192.63,448.72 L193.37,448.72 L194.10,448.72 L194.83,448.72 L195.57,448.72 L196.30,448.72 L197.03,448.72 L197.77,448.72 L198.50,448.72 L199.23,448.72 L199.97,448.72 L200.70,448.72 L201.45,448.72 L202.20,448.72 L202.95,448.72 L203.69,448.72 L204.44,448.72 L205.19,448.72 L205.94,448.72 L206.69,448.72 L207.44,448.72 L208.19,448.72 L208.94,448.72 L209.69,448.72 L210.43,448.72 L211.18,448.72 L211.93,448.72 L212.68,448.72 L213.43,448.72 L214.18,448.72 L214.93,448.73 L215.67,448.85 L216.42,450.91 L217.17,471.40 L217.92,496.57 L218.67,499.75 L219.42,499.94 L220.17,499.95 L220.92,499.95 L221.66,499.95 L222.41,499.95 L223.16,499.95 L223.91,499.95 L224.66,499.95 L225.41,499.95 L226.16,499.95 L226.91,499.95 L227.65,499.95 L228.40,499.95 L229.15,499.95 L229.90,499.95 L230.65,499.95 L231.40,499.95 L232.15,499.95 L232.90,499.95 L233.64,499.95 L234.39,499.95 L235.14,499.95 L235.89,499.95 L236.64,499.95 L237.39,499.95 L238.14,499.95 L238.89,499.95 L239.63,499.95 L240.38,499.95 L241.13,499.95 L241.88,499.95 L242.63,499.95 L243.38,499.95 L244.13,499.95 L244.88,499.95 L245.62,499.95 L246.37,499.95 L247.12,499.95 L247.87,499.95 L248.62,499.95 L249.37,499.95 L250.12,499.95 L250.87,499.95 L251.61,499.95 L252.36,499.95 L253.11,499.95 L253.86,499.95 L254.61,499.95 L255.36,499.95 L256.11,499.95 L256.86,499.95 L257.61,499.95 L258.35,499.95 L259.10,499.95 L259.85,499.95 L260.60,499.95 L261.35,499.95 L262.10,499.95 L262.85,499.95 L263.59,499.95 L264.34,499.95 L265.09,499.95 L265.84,499.95 L266.59,499.95 L267.34,499.95 L268.09,499.95 L268.84,499.95 L269.58,499.95 L270.33,499.95 L271.08,499.95 L271.83,499.95 L272.58,499.95" fill="none" stroke="#b5113d" stroke-width="1.8" stroke-linejoin="round"/>
<path d="M183.10,448.75 L183.83,448.75 L184.57,448.76 L185.30,448.78 L186.03,448.79 L186.77,448.81 L187.50,448.84 L188.23,448.88 L188.97,448.92 L189.70,448.98 L190.43,449.05 L191.17,449.14 L191.90,449.25 L192.63,449.40 L193.37,449.59 L194.10,449.83 L194.83,450.13 L195.57,450.51 L196.30,450.99 L197.03,451.58 L197.77,452.31 L198.50,453.20 L199.23,454.28 L199.97,455.55 L200.70,457.04 L201.45,458.74 L202.20,460.63 L202.95,462.69 L203.69,464.87 L204.44,467.10 L205.19,469.32 L205.94,471.45 L206.69,473.45 L207.44,475.27 L208.19,476.89 L208.94,478.29 L209.69,479.48 L210.43,480.48 L211.18,481.30 L211.93,481.97 L212.68,482.52 L213.43,482.95 L214.18,483.30 L214.93,483.57 L215.67,483.79 L216.42,483.96 L217.17,484.10 L217.92,484.20 L218.67,484.29 L219.42,484.35 L220.17,484.40 L220.92,484.44 L221.66,484.47 L222.41,484.50 L223.16,484.52 L223.91,484.53 L224.66,484.54 L225.41,484.55 L226.16,484.56 L226.91,484.56 L227.65,484.57 L228.40,484.57 L229.15,484.57 L229.90,484.58 L230.65,484.58 L231.40,484.58 L232.15,484.58 L232.90,484.58 L233.64,484.58 L234.39,484.58 L235.14,484.58 L235.89,484.58 L236.64,484.58 L237.39,484.58 L238.14,484.58 L238.89,484.58 L239.63,484.58 L240.38,484.58 L241.13,484.58 L241.88,484.58 L242.63,484.58 L243.38,484.58 L244.13,484.58 L244.88,484.58 L245.62,484.58 L246.37,484.58 L247.12,484.58 L247.87,484.58 L248.62,484.58 L249.37,484.58 L250.12,484.58 L250.87,484.58 L251.61,484.58 L252.36,484.58 L253.11,484.58 L253.86,484.58 L254.61,484.58 L255.36,484.58 L256.11,484.58 L256.86,484.58 L257.61,484.58 L258.35,484.58 L259.10,484.58 L259.85,484.58 L260.60,484.58 L261.35,484.58 L262.10,484.58 L262.85,484.58 L263.59,484.58 L264.34,484.58 L265.09,484.58 L265.84,484.58 L266.59,484.58 L267.34,484.58 L268.09,484.58 L268.84,484.58 L269.58,484.58 L270.33,484.58 L271.08,484.58 L271.83,484.58 L272.58,484.58" fill="none" stroke="#b5113d" stroke-width="1.8" stroke-linejoin="round"/>
<path d="M183.10,448.78 L183.83,448.80 L184.57,448.82 L185.30,448.84 L186.03,448.87 L186.77,448.90 L187.50,448.95 L188.23,449.00 L188.97,449.07 L189.70,449.15 L190.43,449.24 L191.17,449.37 L191.90,449.52 L192.63,449.70 L193.37,449.92 L194.10,450.20 L194.83,450.53 L195.57,450.93 L196.30,451.42 L197.03,452.01 L197.77,452.72 L198.50,453.56 L199.23,454.56 L199.97,455.72 L200.70,457.08 L201.45,458.62 L202.20,460.37 L202.95,462.30 L203.69,464.42 L204.44,466.69 L205.19,469.06 L205.94,471.50 L206.69,473.95 L207.44,476.36 L208.19,478.68 L208.94,480.86 L209.69,482.87 L210.43,484.69 L211.18,486.32 L211.93,487.75 L212.68,488.98 L213.43,490.05 L214.18,490.95 L214.93,491.71 L215.67,492.34 L216.42,492.87 L217.17,493.31 L217.92,493.67 L218.67,493.96 L219.42,494.21 L220.17,494.40 L220.92,494.57 L221.66,494.70 L222.41,494.80 L223.16,494.89 L223.91,494.96 L224.66,495.02 L225.41,495.07 L226.16,495.11 L226.91,495.14 L227.65,495.16 L228.40,495.18 L229.15,495.20 L229.90,495.21 L230.65,495.22 L231.40,495.23 L232.15,495.24 L232.90,495.24 L233.64,495.25 L234.39,495.25 L235.14,495.25 L235.89,495.26 L236.64,495.26 L237.39,495.26 L238.14,495.26 L238.89,495.26 L239.63,495.26 L240.38,495.26 L241.13,495.27 L241.88,495.27 L242.63,495.27 L243.38,495.27 L244.13,495.27 L244.88,495.27 L245.62,495.27 L246.37,495.27 L247.12,495.27 L247.87,495.27 L248.62,495.27 L249.37,495.27 L250.12,495.27 L250.87,495.27 L251.61,495.27 L252.36,495.27 L253.11,495.27 L253.86,495.27 L254.61,495.27 L255.36,495.27 L256.11,495.27 L256.86,495.27 L257.61,495.27 L258.35,495.27 L259.10,495.27 L259.85,495.27 L260.60,495.27 L261.35,495.27 L262.10,495.27 L262.85,495.27 L263.59,495.27 L264.34,495.27 L265.09,495.27 L265.84,495.27 L266.59,495.27 L267.34,495.27 L268.09,495.27 L268.84,495.27 L269.58,495.27 L270.33,495.27 L271.08,495.27 L271.83,495.27 L272.58,495.27" fill="none" stroke="#b5113d" stroke-width="1.8" stroke-linejoin="round"/>
<path d="M183.10,448.72 L183.83,448.72 L184.57,448.72 L185.30,448.72 L186.03,448.72 L186.77,448.73 L187.50,448.73 L188.23,448.73 L188.97,448.73 L189.70,448.74 L190.43,448.74 L191.17,448.75 L191.90,448.76 L192.63,448.78 L193.37,448.79 L194.10,448.81 L194.83,448.84 L195.57,448.88 L196.30,448.93 L197.03,449.00 L197.77,449.08 L198.50,449.19 L199.23,449.33 L199.97,449.52 L200.70,449.76 L201.45,450.07 L202.20,450.48 L202.95,451.00 L203.69,451.66 L204.44,452.49 L205.19,453.55 L205.94,454.85 L206.69,456.46 L207.44,458.39 L208.19,460.67 L208.94,463.30 L209.69,466.25 L210.43,469.45 L211.18,472.81 L211.93,476.23 L212.68,479.57 L213.43,482.73 L214.18,485.61 L214.93,488.17 L215.67,490.38 L216.42,492.25 L217.17,493.79 L217.92,495.04 L218.67,496.05 L219.42,496.85 L220.17,497.48 L220.92,497.97 L221.66,498.36 L222.41,498.65 L223.16,498.88 L223.91,499.06 L224.66,499.19 L225.41,499.30 L226.16,499.38 L226.91,499.44 L227.65,499.49 L228.40,499.52 L229.15,499.55 L229.90,499.57 L230.65,499.59 L231.40,499.60 L232.15,499.61 L232.90,499.62 L233.64,499.62 L234.39,499.63 L235.14,499.63 L235.89,499.63 L236.64,499.64 L237.39,499.64 L238.14,499.64 L238.89,499.64 L239.63,499.64 L240.38,499.64 L241.13,499.64 L241.88,499.64 L242.63,499.64 L243.38,499.64 L244.13,499.64 L244.88,499.64 L245.62,499.64 L246.37,499.64 L247.12,499.64 L247.87,499.64 L248.62,499.64 L249.37,499.64 L250.12,499.64 L250.87,499.64 L251.61,499.64 L252.36,499.64 L253.11,499.64 L253.86,499.64 L254.61,499.64 L255.36,499.64 L256.11,499.64 L256.86,499.64 L257.61,499.64 L258.35,499.64 L259.10,499.64 L259.85,499.64 L260.60,499.64 L261.35,499.64 L262.10,499.64 L262.85,499.64 L263.59,499.64 L264.34,499.64 L265.09,499.64 L265.84,499.64 L266.59,499.64 L267.34,499.64 L268.09,499.64 L268.84,499.64 L269.58,499.64 L270.33,499.64 L271.08,499.64 L271.83,499.64 L272.58,499.64" fill="none" stroke="#b5113d" stroke-width="1.8" stroke-linejoin="round"/>
<text x="292.9" y="469.5" font-size="9.2" text-anchor="middle" font-weight="normal" fill="#222" font-style="italic" transform="rotate(-90 292.9 469.5)">In vivo</text>
<text x="310.3" y="470.6" font-size="9.2" text-anchor="middle" font-weight="normal" fill="#222" textLength="139" lengthAdjust="spacingAndGlyphs" transform="rotate(-90 310.3 470.6)">% ALL blasts in BM after treatment</text>
<text x="320.5" y="469" font-size="9.2" text-anchor="middle" font-weight="normal" fill="#222" textLength="95.4" lengthAdjust="spacingAndGlyphs" transform="rotate(-90 320.5 469)">compared to the control</text>
<rect x="344.70" y="430.98" width="6.10" height="89.12" fill="#2c4a82" stroke="none" stroke-width="0"/>
<rect x="351.85" y="454.84" width="6.10" height="65.26" fill="#2c4a82" stroke="none" stroke-width="0"/>
<rect x="359.00" y="474.32" width="6.10" height="45.78" fill="#2c4a82" stroke="none" stroke-width="0"/>
<rect x="366.15" y="485.04" width="6.10" height="35.06" fill="#2c4a82" stroke="none" stroke-width="0"/>
<rect x="373.30" y="500.62" width="6.10" height="19.48" fill="#b41038" stroke="none" stroke-width="0"/>
<rect x="380.45" y="503.54" width="6.10" height="16.56" fill="#b41038" stroke="none" stroke-width="0"/>
<rect x="387.60" y="516.20" width="6.10" height="3.90" fill="#b41038" stroke="none" stroke-width="0"/>
<rect x="394.75" y="518.64" width="6.10" height="1.46" fill="#b41038" stroke="none" stroke-width="0"/>
<line x1="344.00" y1="420.50" x2="344.00" y2="520.80" stroke="#111" stroke-width="1.5"/>
<line x1="343.30" y1="520.10" x2="408.40" y2="520.10" stroke="#111" stroke-width="1.6"/>
<line x1="340.80" y1="520.10" x2="344.00" y2="520.10" stroke="#111" stroke-width="1.1"/>
<text x="338.6" y="522.3000000000001" font-size="6.3" text-anchor="end" font-weight="normal" fill="#444">0</text>
<line x1="340.80" y1="495.75" x2="344.00" y2="495.75" stroke="#111" stroke-width="1.1"/>
<text x="338.6" y="497.95" font-size="6.3" text-anchor="end" font-weight="normal" fill="#444">25</text>
<line x1="340.80" y1="471.40" x2="344.00" y2="471.40" stroke="#111" stroke-width="1.1"/>
<text x="338.6" y="473.6" font-size="6.3" text-anchor="end" font-weight="normal" fill="#444">50</text>
<line x1="340.80" y1="447.05" x2="344.00" y2="447.05" stroke="#111" stroke-width="1.1"/>
<text x="338.6" y="449.25" font-size="6.3" text-anchor="end" font-weight="normal" fill="#444">75</text>
<line x1="340.80" y1="422.70" x2="344.00" y2="422.70" stroke="#111" stroke-width="1.1"/>
<text x="338.6" y="424.90000000000003" font-size="6.3" text-anchor="end" font-weight="normal" fill="#444">100</text>
<text x="375.1" y="533" font-size="6.8" text-anchor="middle" font-weight="normal" fill="#333" textLength="76" lengthAdjust="spacingAndGlyphs">i.p. Cytarabine (50 mg/kg)</text>
<rect x="441.50" y="437.80" width="5.80" height="82.30" fill="#2c4a82" stroke="none" stroke-width="0"/>
<rect x="448.73" y="466.92" width="5.80" height="53.18" fill="#2c4a82" stroke="none" stroke-width="0"/>
<rect x="455.96" y="470.04" width="5.80" height="50.06" fill="#b41038" stroke="none" stroke-width="0"/>
<rect x="463.19" y="472.76" width="5.80" height="47.34" fill="#b41038" stroke="none" stroke-width="0"/>
<rect x="470.42" y="476.66" width="5.80" height="43.44" fill="#2c4a82" stroke="none" stroke-width="0"/>
<rect x="477.65" y="479.19" width="5.80" height="40.91" fill="#2c4a82" stroke="none" stroke-width="0"/>
<rect x="484.88" y="482.41" width="5.80" height="37.69" fill="#b41038" stroke="none" stroke-width="0"/>
<rect x="492.11" y="496.24" width="5.80" height="23.86" fill="#b41038" stroke="none" stroke-width="0"/>
<line x1="440.70" y1="420.50" x2="440.70" y2="520.80" stroke="#111" stroke-width="1.5"/>
<line x1="440.00" y1="520.10" x2="504.30" y2="520.10" stroke="#111" stroke-width="1.6"/>
<line x1="437.50" y1="520.10" x2="440.70" y2="520.10" stroke="#111" stroke-width="1.1"/>
<text x="435.4" y="522.3000000000001" font-size="6.3" text-anchor="end" font-weight="normal" fill="#444">0</text>
<line x1="437.50" y1="495.75" x2="440.70" y2="495.75" stroke="#111" stroke-width="1.1"/>
<text x="435.4" y="497.95" font-size="6.3" text-anchor="end" font-weight="normal" fill="#444">25</text>
<line x1="437.50" y1="471.40" x2="440.70" y2="471.40" stroke="#111" stroke-width="1.1"/>
<text x="435.4" y="473.6" font-size="6.3" text-anchor="end" font-weight="normal" fill="#444">50</text>
<line x1="437.50" y1="447.05" x2="440.70" y2="447.05" stroke="#111" stroke-width="1.1"/>
<text x="435.4" y="449.25" font-size="6.3" text-anchor="end" font-weight="normal" fill="#444">75</text>
<line x1="437.50" y1="422.70" x2="440.70" y2="422.70" stroke="#111" stroke-width="1.1"/>
<text x="435.4" y="424.90000000000003" font-size="6.3" text-anchor="end" font-weight="normal" fill="#444">100</text>
<text x="472.5" y="533" font-size="6.8" text-anchor="middle" font-weight="normal" fill="#333" textLength="69" lengthAdjust="spacingAndGlyphs">i.v. Docetaxel (5 mg/kg)</text>
<line x1="347.30" y1="428.30" x2="368.90" y2="428.30" stroke="#111" stroke-width="1.1"/>
<line x1="358.40" y1="428.30" x2="358.40" y2="422.70" stroke="#111" stroke-width="1.1"/>
<line x1="358.40" y1="422.70" x2="386.40" y2="422.70" stroke="#111" stroke-width="1.1"/>
<line x1="386.40" y1="422.70" x2="386.40" y2="495.40" stroke="#111" stroke-width="1.1"/>
<line x1="376.20" y1="495.40" x2="398.10" y2="495.40" stroke="#111" stroke-width="1.1"/>
<text x="372" y="422.5" font-size="8" text-anchor="middle" font-weight="normal" fill="#222">**</text>
<path d="M0.5,546 L0.5,0.5 L519,0.5" fill="none" stroke="#000" stroke-width="1.2"/>
<path d="M519,0 L519,545 L0,545" fill="none" stroke="#000" stroke-width="2"/>
</svg>
</body></html>
